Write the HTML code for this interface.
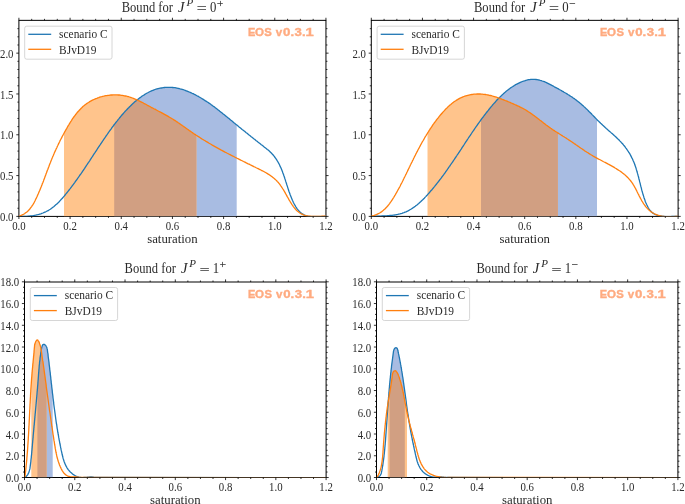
<!DOCTYPE html>
<html><head><meta charset="utf-8"><style>
html,body{margin:0;padding:0;background:#fff;width:685px;height:504px;overflow:hidden}
svg{display:block;will-change:transform}
text{fill:#2a2a2a}
.tl{font-family:"Liberation Serif", serif;font-size:12.2px}
.xl{font-family:"Liberation Serif", serif;font-size:12.8px}
.tt{font-family:"Liberation Serif", serif;font-size:14.6px}
.ts{font-family:"Liberation Serif", serif;font-size:11px}
.tn{font-family:"Liberation Serif", serif;font-size:15px}
.lg{font-family:"Liberation Serif", serif;font-size:12.4px}
.eos{font-family:"Liberation Sans", sans-serif;font-size:11px;font-weight:bold;fill:#ffab80;stroke:#ffab80;stroke-width:0.35px}
</style></head><body>
<svg width="685" height="504" viewBox="0 0 685 504">
<clipPath id="cb1"><path d="M114.2,216.4 L114.2,124.7 L114.4,124.5 L115.0,123.6 L115.7,122.8 L116.3,121.9 L117.0,121.1 L117.6,120.3 L118.3,119.4 L119.0,118.6 L119.6,117.8 L120.3,117.0 L121.0,116.1 L121.7,115.3 L122.4,114.5 L123.1,113.7 L123.8,112.9 L124.5,112.1 L125.2,111.3 L125.9,110.6 L126.7,109.8 L127.4,109.0 L128.1,108.3 L128.9,107.5 L129.6,106.7 L130.4,106.0 L131.2,105.2 L131.9,104.5 L132.7,103.8 L133.5,103.1 L134.3,102.3 L135.1,101.6 L135.9,100.9 L136.7,100.2 L137.6,99.6 L138.4,98.9 L139.2,98.2 L140.1,97.6 L141.0,97.0 L141.8,96.3 L142.7,95.7 L143.6,95.2 L144.5,94.6 L145.4,94.0 L146.3,93.5 L147.2,93.0 L148.2,92.5 L149.1,92.0 L150.1,91.5 L151.0,91.1 L152.0,90.7 L153.0,90.3 L154.0,89.9 L155.0,89.5 L156.0,89.2 L157.0,88.9 L158.1,88.6 L159.1,88.4 L160.2,88.2 L161.2,88.0 L162.2,87.8 L163.3,87.6 L164.4,87.5 L165.4,87.4 L166.5,87.3 L167.5,87.3 L168.6,87.3 L169.7,87.3 L170.7,87.3 L171.8,87.4 L172.8,87.5 L173.9,87.6 L175.0,87.7 L176.0,87.9 L177.0,88.1 L178.1,88.3 L179.1,88.5 L180.1,88.8 L181.2,89.1 L182.2,89.4 L183.2,89.7 L184.2,90.0 L185.2,90.4 L186.2,90.8 L187.2,91.2 L188.2,91.6 L189.2,92.0 L190.2,92.4 L191.2,92.8 L192.1,93.3 L193.1,93.7 L194.1,94.2 L195.0,94.7 L196.0,95.2 L196.9,95.7 L197.8,96.2 L198.8,96.7 L199.7,97.2 L200.6,97.8 L201.5,98.3 L202.4,98.9 L203.3,99.4 L204.2,100.0 L205.1,100.6 L206.0,101.1 L206.9,101.7 L207.8,102.3 L208.7,102.9 L209.6,103.5 L210.4,104.1 L211.3,104.8 L212.2,105.4 L213.0,106.0 L213.9,106.6 L214.8,107.3 L215.6,107.9 L216.5,108.6 L217.3,109.2 L218.2,109.9 L219.0,110.5 L219.8,111.2 L220.7,111.9 L221.5,112.5 L222.4,113.2 L223.2,113.9 L224.0,114.5 L224.9,115.2 L225.7,115.9 L226.5,116.6 L227.3,117.2 L228.2,117.9 L229.0,118.6 L229.8,119.3 L230.6,120.0 L231.4,120.6 L232.3,121.3 L233.1,122.0 L233.9,122.7 L234.7,123.3 L235.5,124.0 L236.4,124.7 L236.7,124.9 L236.7,216.4 Z"/></clipPath>
<clipPath id="ca1"><rect x="18.9" y="20.5" width="307.05" height="195.75"/></clipPath>
<rect x="18.9" y="20.35" width="307.05" height="196.05" fill="none" stroke="#000" stroke-width="1.0"/>
<g clip-path="url(#ca1)">
<path d="M114.2,216.4 L114.2,124.7 L114.4,124.5 L115.0,123.6 L115.7,122.8 L116.3,121.9 L117.0,121.1 L117.6,120.3 L118.3,119.4 L119.0,118.6 L119.6,117.8 L120.3,117.0 L121.0,116.1 L121.7,115.3 L122.4,114.5 L123.1,113.7 L123.8,112.9 L124.5,112.1 L125.2,111.3 L125.9,110.6 L126.7,109.8 L127.4,109.0 L128.1,108.3 L128.9,107.5 L129.6,106.7 L130.4,106.0 L131.2,105.2 L131.9,104.5 L132.7,103.8 L133.5,103.1 L134.3,102.3 L135.1,101.6 L135.9,100.9 L136.7,100.2 L137.6,99.6 L138.4,98.9 L139.2,98.2 L140.1,97.6 L141.0,97.0 L141.8,96.3 L142.7,95.7 L143.6,95.2 L144.5,94.6 L145.4,94.0 L146.3,93.5 L147.2,93.0 L148.2,92.5 L149.1,92.0 L150.1,91.5 L151.0,91.1 L152.0,90.7 L153.0,90.3 L154.0,89.9 L155.0,89.5 L156.0,89.2 L157.0,88.9 L158.1,88.6 L159.1,88.4 L160.2,88.2 L161.2,88.0 L162.2,87.8 L163.3,87.6 L164.4,87.5 L165.4,87.4 L166.5,87.3 L167.5,87.3 L168.6,87.3 L169.7,87.3 L170.7,87.3 L171.8,87.4 L172.8,87.5 L173.9,87.6 L175.0,87.7 L176.0,87.9 L177.0,88.1 L178.1,88.3 L179.1,88.5 L180.1,88.8 L181.2,89.1 L182.2,89.4 L183.2,89.7 L184.2,90.0 L185.2,90.4 L186.2,90.8 L187.2,91.2 L188.2,91.6 L189.2,92.0 L190.2,92.4 L191.2,92.8 L192.1,93.3 L193.1,93.7 L194.1,94.2 L195.0,94.7 L196.0,95.2 L196.9,95.7 L197.8,96.2 L198.8,96.7 L199.7,97.2 L200.6,97.8 L201.5,98.3 L202.4,98.9 L203.3,99.4 L204.2,100.0 L205.1,100.6 L206.0,101.1 L206.9,101.7 L207.8,102.3 L208.7,102.9 L209.6,103.5 L210.4,104.1 L211.3,104.8 L212.2,105.4 L213.0,106.0 L213.9,106.6 L214.8,107.3 L215.6,107.9 L216.5,108.6 L217.3,109.2 L218.2,109.9 L219.0,110.5 L219.8,111.2 L220.7,111.9 L221.5,112.5 L222.4,113.2 L223.2,113.9 L224.0,114.5 L224.9,115.2 L225.7,115.9 L226.5,116.6 L227.3,117.2 L228.2,117.9 L229.0,118.6 L229.8,119.3 L230.6,120.0 L231.4,120.6 L232.3,121.3 L233.1,122.0 L233.9,122.7 L234.7,123.3 L235.5,124.0 L236.4,124.7 L236.7,124.9 L236.7,216.4 Z" fill="#a8bce2"/>
<path d="M64.0,216.4 L64.0,133.2 L64.0,133.2 L64.5,132.3 L65.0,131.4 L65.5,130.5 L66.0,129.6 L66.6,128.6 L67.1,127.7 L67.6,126.8 L68.1,125.9 L68.7,125.0 L69.2,124.1 L69.8,123.2 L70.3,122.3 L70.9,121.4 L71.5,120.5 L72.0,119.6 L72.6,118.7 L73.2,117.8 L73.8,117.0 L74.5,116.1 L75.1,115.3 L75.7,114.5 L76.4,113.6 L77.0,112.8 L77.7,112.0 L78.4,111.2 L79.1,110.5 L79.8,109.7 L80.5,109.0 L81.2,108.2 L82.0,107.5 L82.7,106.8 L83.5,106.1 L84.3,105.5 L85.1,104.8 L85.9,104.2 L86.7,103.6 L87.6,103.0 L88.5,102.5 L89.3,101.9 L90.2,101.4 L91.1,100.9 L92.0,100.4 L93.0,99.9 L93.9,99.5 L94.8,99.1 L95.8,98.7 L96.8,98.3 L97.7,97.9 L98.7,97.6 L99.7,97.2 L100.7,96.9 L101.7,96.7 L102.7,96.4 L103.7,96.2 L104.8,95.9 L105.8,95.7 L106.8,95.6 L107.9,95.4 L108.9,95.3 L109.9,95.1 L111.0,95.0 L112.0,95.0 L113.1,94.9 L114.1,94.9 L115.1,94.9 L116.2,94.9 L117.2,94.9 L118.3,95.0 L119.3,95.0 L120.3,95.1 L121.4,95.3 L122.4,95.4 L123.4,95.6 L124.5,95.8 L125.5,96.0 L126.5,96.2 L127.5,96.5 L128.5,96.7 L129.5,97.0 L130.5,97.3 L131.4,97.7 L132.4,98.0 L133.4,98.4 L134.4,98.8 L135.3,99.2 L136.3,99.6 L137.2,100.0 L138.2,100.5 L139.1,100.9 L140.1,101.4 L141.0,101.8 L142.0,102.3 L142.9,102.8 L143.8,103.3 L144.8,103.8 L145.7,104.3 L146.6,104.8 L147.5,105.3 L148.5,105.8 L149.4,106.3 L150.3,106.8 L151.2,107.3 L152.2,107.8 L153.1,108.3 L154.0,108.8 L154.9,109.2 L155.9,109.7 L156.8,110.2 L157.7,110.7 L158.6,111.2 L159.5,111.7 L160.5,112.2 L161.4,112.6 L162.3,113.1 L163.2,113.6 L164.1,114.1 L165.0,114.6 L165.9,115.1 L166.8,115.6 L167.7,116.1 L168.6,116.6 L169.5,117.2 L170.4,117.7 L171.3,118.2 L172.2,118.8 L173.0,119.3 L173.9,119.9 L174.8,120.4 L175.7,121.0 L176.5,121.6 L177.4,122.1 L178.2,122.7 L179.1,123.3 L180.0,123.9 L180.8,124.5 L181.7,125.1 L182.5,125.7 L183.4,126.3 L184.2,126.9 L185.1,127.5 L185.9,128.1 L186.8,128.7 L187.6,129.3 L188.5,129.9 L189.3,130.5 L190.2,131.1 L191.1,131.7 L191.9,132.3 L192.8,132.9 L193.6,133.5 L194.5,134.1 L195.4,134.6 L196.2,135.2 L196.4,135.3 L196.4,216.4 Z" fill="#ffc48c"/>
<path d="M64.0,216.4 L64.0,133.2 L64.0,133.2 L64.5,132.3 L65.0,131.4 L65.5,130.5 L66.0,129.6 L66.6,128.6 L67.1,127.7 L67.6,126.8 L68.1,125.9 L68.7,125.0 L69.2,124.1 L69.8,123.2 L70.3,122.3 L70.9,121.4 L71.5,120.5 L72.0,119.6 L72.6,118.7 L73.2,117.8 L73.8,117.0 L74.5,116.1 L75.1,115.3 L75.7,114.5 L76.4,113.6 L77.0,112.8 L77.7,112.0 L78.4,111.2 L79.1,110.5 L79.8,109.7 L80.5,109.0 L81.2,108.2 L82.0,107.5 L82.7,106.8 L83.5,106.1 L84.3,105.5 L85.1,104.8 L85.9,104.2 L86.7,103.6 L87.6,103.0 L88.5,102.5 L89.3,101.9 L90.2,101.4 L91.1,100.9 L92.0,100.4 L93.0,99.9 L93.9,99.5 L94.8,99.1 L95.8,98.7 L96.8,98.3 L97.7,97.9 L98.7,97.6 L99.7,97.2 L100.7,96.9 L101.7,96.7 L102.7,96.4 L103.7,96.2 L104.8,95.9 L105.8,95.7 L106.8,95.6 L107.9,95.4 L108.9,95.3 L109.9,95.1 L111.0,95.0 L112.0,95.0 L113.1,94.9 L114.1,94.9 L115.1,94.9 L116.2,94.9 L117.2,94.9 L118.3,95.0 L119.3,95.0 L120.3,95.1 L121.4,95.3 L122.4,95.4 L123.4,95.6 L124.5,95.8 L125.5,96.0 L126.5,96.2 L127.5,96.5 L128.5,96.7 L129.5,97.0 L130.5,97.3 L131.4,97.7 L132.4,98.0 L133.4,98.4 L134.4,98.8 L135.3,99.2 L136.3,99.6 L137.2,100.0 L138.2,100.5 L139.1,100.9 L140.1,101.4 L141.0,101.8 L142.0,102.3 L142.9,102.8 L143.8,103.3 L144.8,103.8 L145.7,104.3 L146.6,104.8 L147.5,105.3 L148.5,105.8 L149.4,106.3 L150.3,106.8 L151.2,107.3 L152.2,107.8 L153.1,108.3 L154.0,108.8 L154.9,109.2 L155.9,109.7 L156.8,110.2 L157.7,110.7 L158.6,111.2 L159.5,111.7 L160.5,112.2 L161.4,112.6 L162.3,113.1 L163.2,113.6 L164.1,114.1 L165.0,114.6 L165.9,115.1 L166.8,115.6 L167.7,116.1 L168.6,116.6 L169.5,117.2 L170.4,117.7 L171.3,118.2 L172.2,118.8 L173.0,119.3 L173.9,119.9 L174.8,120.4 L175.7,121.0 L176.5,121.6 L177.4,122.1 L178.2,122.7 L179.1,123.3 L180.0,123.9 L180.8,124.5 L181.7,125.1 L182.5,125.7 L183.4,126.3 L184.2,126.9 L185.1,127.5 L185.9,128.1 L186.8,128.7 L187.6,129.3 L188.5,129.9 L189.3,130.5 L190.2,131.1 L191.1,131.7 L191.9,132.3 L192.8,132.9 L193.6,133.5 L194.5,134.1 L195.4,134.6 L196.2,135.2 L196.4,135.3 L196.4,216.4 Z" fill="#d19f82" clip-path="url(#cb1)"/>
<path d="M18.6,216.2 L19.6,216.3 L20.7,216.3 L21.7,216.4 L22.8,216.4 L23.8,216.4 L24.9,216.4 L26.0,216.4 L27.1,216.3 L28.1,216.2 L29.2,216.1 L30.3,216.0 L31.4,215.9 L32.4,215.8 L33.5,215.6 L34.6,215.4 L35.6,215.2 L36.7,214.9 L37.7,214.7 L38.8,214.4 L39.8,214.1 L40.8,213.8 L41.8,213.4 L42.9,213.0 L43.8,212.6 L44.8,212.2 L45.8,211.8 L46.7,211.3 L47.6,210.8 L48.6,210.3 L49.4,209.7 L50.3,209.2 L51.2,208.6 L52.0,208.0 L52.9,207.3 L53.7,206.7 L54.5,206.0 L55.3,205.3 L56.1,204.6 L56.9,203.9 L57.7,203.2 L58.4,202.4 L59.2,201.7 L59.9,200.9 L60.6,200.1 L61.3,199.3 L62.1,198.5 L62.8,197.7 L63.5,196.9 L64.2,196.1 L64.9,195.3 L65.5,194.4 L66.2,193.6 L66.9,192.8 L67.6,191.9 L68.2,191.1 L68.9,190.3 L69.5,189.4 L70.2,188.6 L70.9,187.7 L71.5,186.9 L72.1,186.0 L72.8,185.1 L73.4,184.3 L74.1,183.4 L74.7,182.6 L75.3,181.7 L75.9,180.8 L76.6,180.0 L77.2,179.1 L77.8,178.2 L78.4,177.4 L79.0,176.5 L79.6,175.6 L80.2,174.7 L80.9,173.9 L81.5,173.0 L82.1,172.1 L82.7,171.2 L83.3,170.3 L83.9,169.4 L84.5,168.6 L85.0,167.7 L85.6,166.8 L86.2,165.9 L86.8,165.0 L87.4,164.1 L88.0,163.2 L88.6,162.4 L89.2,161.5 L89.8,160.6 L90.3,159.7 L90.9,158.8 L91.5,157.9 L92.1,157.0 L92.7,156.1 L93.3,155.2 L93.8,154.3 L94.4,153.4 L95.0,152.6 L95.6,151.7 L96.2,150.8 L96.8,149.9 L97.3,149.0 L97.9,148.1 L98.5,147.2 L99.1,146.3 L99.7,145.4 L100.3,144.6 L100.9,143.7 L101.5,142.8 L102.1,141.9 L102.7,141.0 L103.3,140.1 L103.9,139.2 L104.5,138.4 L105.1,137.5 L105.7,136.6 L106.3,135.7 L106.9,134.9 L107.5,134.0 L108.1,133.1 L108.7,132.2 L109.3,131.4 L109.9,130.5 L110.6,129.6 L111.2,128.8 L111.8,127.9 L112.4,127.0 L113.1,126.2 L113.7,125.3 L114.4,124.5 L115.0,123.6 L115.7,122.8 L116.3,121.9 L117.0,121.1 L117.6,120.3 L118.3,119.4 L119.0,118.6 L119.6,117.8 L120.3,117.0 L121.0,116.1 L121.7,115.3 L122.4,114.5 L123.1,113.7 L123.8,112.9 L124.5,112.1 L125.2,111.3 L125.9,110.6 L126.7,109.8 L127.4,109.0 L128.1,108.3 L128.9,107.5 L129.6,106.7 L130.4,106.0 L131.2,105.2 L131.9,104.5 L132.7,103.8 L133.5,103.1 L134.3,102.3 L135.1,101.6 L135.9,100.9 L136.7,100.2 L137.6,99.6 L138.4,98.9 L139.2,98.2 L140.1,97.6 L141.0,97.0 L141.8,96.3 L142.7,95.7 L143.6,95.2 L144.5,94.6 L145.4,94.0 L146.3,93.5 L147.2,93.0 L148.2,92.5 L149.1,92.0 L150.1,91.5 L151.0,91.1 L152.0,90.7 L153.0,90.3 L154.0,89.9 L155.0,89.5 L156.0,89.2 L157.0,88.9 L158.1,88.6 L159.1,88.4 L160.2,88.2 L161.2,88.0 L162.2,87.8 L163.3,87.6 L164.4,87.5 L165.4,87.4 L166.5,87.3 L167.5,87.3 L168.6,87.3 L169.7,87.3 L170.7,87.3 L171.8,87.4 L172.8,87.5 L173.9,87.6 L175.0,87.7 L176.0,87.9 L177.0,88.1 L178.1,88.3 L179.1,88.5 L180.1,88.8 L181.2,89.1 L182.2,89.4 L183.2,89.7 L184.2,90.0 L185.2,90.4 L186.2,90.8 L187.2,91.2 L188.2,91.6 L189.2,92.0 L190.2,92.4 L191.2,92.8 L192.1,93.3 L193.1,93.7 L194.1,94.2 L195.0,94.7 L196.0,95.2 L196.9,95.7 L197.8,96.2 L198.8,96.7 L199.7,97.2 L200.6,97.8 L201.5,98.3 L202.4,98.9 L203.3,99.4 L204.2,100.0 L205.1,100.6 L206.0,101.1 L206.9,101.7 L207.8,102.3 L208.7,102.9 L209.6,103.5 L210.4,104.1 L211.3,104.8 L212.2,105.4 L213.0,106.0 L213.9,106.6 L214.8,107.3 L215.6,107.9 L216.5,108.6 L217.3,109.2 L218.2,109.9 L219.0,110.5 L219.8,111.2 L220.7,111.9 L221.5,112.5 L222.4,113.2 L223.2,113.9 L224.0,114.5 L224.9,115.2 L225.7,115.9 L226.5,116.6 L227.3,117.2 L228.2,117.9 L229.0,118.6 L229.8,119.3 L230.6,120.0 L231.4,120.6 L232.3,121.3 L233.1,122.0 L233.9,122.7 L234.7,123.3 L235.5,124.0 L236.4,124.7 L237.2,125.3 L238.0,126.0 L238.8,126.7 L239.7,127.4 L240.5,128.0 L241.3,128.7 L242.1,129.4 L242.9,130.0 L243.8,130.7 L244.6,131.3 L245.4,132.0 L246.2,132.7 L247.1,133.3 L247.9,134.0 L248.7,134.7 L249.5,135.3 L250.4,136.0 L251.2,136.7 L252.0,137.3 L252.9,138.0 L253.7,138.7 L254.6,139.3 L255.4,140.0 L256.2,140.7 L257.1,141.3 L257.9,142.0 L258.8,142.7 L259.6,143.3 L260.5,144.0 L261.3,144.7 L262.2,145.3 L263.1,146.0 L263.9,146.7 L264.8,147.4 L265.6,148.0 L266.5,148.7 L267.3,149.4 L268.2,150.1 L269.0,150.8 L269.8,151.5 L270.5,152.3 L271.3,153.0 L272.0,153.8 L272.7,154.5 L273.4,155.3 L274.1,156.2 L274.7,157.0 L275.3,157.8 L275.9,158.7 L276.5,159.5 L277.0,160.4 L277.6,161.3 L278.1,162.2 L278.6,163.1 L279.1,164.0 L279.6,165.0 L280.0,165.9 L280.4,166.9 L280.9,167.8 L281.3,168.8 L281.7,169.8 L282.1,170.8 L282.5,171.8 L282.8,172.8 L283.2,173.8 L283.6,174.8 L283.9,175.8 L284.3,176.8 L284.6,177.8 L284.9,178.8 L285.3,179.9 L285.6,180.9 L285.9,181.9 L286.3,183.0 L286.6,184.0 L286.9,185.0 L287.3,186.1 L287.6,187.1 L287.9,188.1 L288.3,189.2 L288.6,190.2 L288.9,191.2 L289.3,192.2 L289.7,193.3 L290.0,194.3 L290.4,195.3 L290.8,196.3 L291.2,197.3 L291.6,198.3 L292.0,199.3 L292.4,200.3 L292.9,201.2 L293.3,202.2 L293.8,203.2 L294.3,204.1 L294.8,205.0 L295.3,205.9 L295.8,206.8 L296.4,207.7 L297.0,208.6 L297.6,209.4 L298.3,210.2 L298.9,210.9 L299.6,211.7 L300.4,212.3 L301.1,213.0 L301.9,213.6 L302.8,214.1 L303.6,214.6 L304.6,215.1 L305.5,215.5 L306.5,215.9 L307.5,216.2 L308.5,216.5 L309.5,216.6 L310.6,216.6 L311.6,216.6 L312.7,216.6 L313.8,216.6 L314.9,216.6 L316.1,216.6 L317.2,216.6 L318.3,216.6 L319.4,216.6 L320.6,216.6 L321.7,216.6 L322.8,216.6 L323.9,216.6 L325.0,216.3 L326.0,216.1" fill="none" stroke="#1f77b4" stroke-width="1.3" stroke-linejoin="round"/>
<path d="M18.6,216.3 L19.7,216.0 L20.7,215.6 L21.7,215.2 L22.7,214.7 L23.6,214.2 L24.5,213.7 L25.3,213.1 L26.1,212.5 L26.9,211.9 L27.7,211.2 L28.4,210.5 L29.1,209.8 L29.8,209.0 L30.4,208.2 L31.0,207.4 L31.6,206.6 L32.2,205.7 L32.8,204.9 L33.3,204.0 L33.8,203.1 L34.3,202.2 L34.8,201.2 L35.3,200.3 L35.7,199.3 L36.2,198.4 L36.6,197.4 L37.1,196.5 L37.5,195.5 L37.9,194.5 L38.4,193.6 L38.8,192.6 L39.2,191.6 L39.6,190.7 L40.0,189.7 L40.4,188.7 L40.8,187.7 L41.2,186.8 L41.6,185.8 L42.0,184.8 L42.3,183.8 L42.7,182.9 L43.1,181.9 L43.5,180.9 L43.8,179.9 L44.2,178.9 L44.6,178.0 L44.9,177.0 L45.3,176.0 L45.7,175.0 L46.0,174.0 L46.4,173.1 L46.8,172.1 L47.1,171.1 L47.5,170.1 L47.9,169.2 L48.2,168.2 L48.6,167.2 L49.0,166.2 L49.3,165.3 L49.7,164.3 L50.1,163.3 L50.5,162.4 L50.8,161.4 L51.2,160.4 L51.6,159.5 L52.0,158.5 L52.4,157.6 L52.8,156.6 L53.2,155.7 L53.6,154.7 L54.0,153.8 L54.4,152.8 L54.8,151.9 L55.3,150.9 L55.7,150.0 L56.1,149.0 L56.6,148.1 L57.0,147.2 L57.4,146.2 L57.9,145.3 L58.3,144.4 L58.8,143.4 L59.2,142.5 L59.7,141.6 L60.1,140.6 L60.6,139.7 L61.1,138.8 L61.6,137.9 L62.0,136.9 L62.5,136.0 L63.0,135.1 L63.5,134.2 L64.0,133.2 L64.5,132.3 L65.0,131.4 L65.5,130.5 L66.0,129.6 L66.6,128.6 L67.1,127.7 L67.6,126.8 L68.1,125.9 L68.7,125.0 L69.2,124.1 L69.8,123.2 L70.3,122.3 L70.9,121.4 L71.5,120.5 L72.0,119.6 L72.6,118.7 L73.2,117.8 L73.8,117.0 L74.5,116.1 L75.1,115.3 L75.7,114.5 L76.4,113.6 L77.0,112.8 L77.7,112.0 L78.4,111.2 L79.1,110.5 L79.8,109.7 L80.5,109.0 L81.2,108.2 L82.0,107.5 L82.7,106.8 L83.5,106.1 L84.3,105.5 L85.1,104.8 L85.9,104.2 L86.7,103.6 L87.6,103.0 L88.5,102.5 L89.3,101.9 L90.2,101.4 L91.1,100.9 L92.0,100.4 L93.0,99.9 L93.9,99.5 L94.8,99.1 L95.8,98.7 L96.8,98.3 L97.7,97.9 L98.7,97.6 L99.7,97.2 L100.7,96.9 L101.7,96.7 L102.7,96.4 L103.7,96.2 L104.8,95.9 L105.8,95.7 L106.8,95.6 L107.9,95.4 L108.9,95.3 L109.9,95.1 L111.0,95.0 L112.0,95.0 L113.1,94.9 L114.1,94.9 L115.1,94.9 L116.2,94.9 L117.2,94.9 L118.3,95.0 L119.3,95.0 L120.3,95.1 L121.4,95.3 L122.4,95.4 L123.4,95.6 L124.5,95.8 L125.5,96.0 L126.5,96.2 L127.5,96.5 L128.5,96.7 L129.5,97.0 L130.5,97.3 L131.4,97.7 L132.4,98.0 L133.4,98.4 L134.4,98.8 L135.3,99.2 L136.3,99.6 L137.2,100.0 L138.2,100.5 L139.1,100.9 L140.1,101.4 L141.0,101.8 L142.0,102.3 L142.9,102.8 L143.8,103.3 L144.8,103.8 L145.7,104.3 L146.6,104.8 L147.5,105.3 L148.5,105.8 L149.4,106.3 L150.3,106.8 L151.2,107.3 L152.2,107.8 L153.1,108.3 L154.0,108.8 L154.9,109.2 L155.9,109.7 L156.8,110.2 L157.7,110.7 L158.6,111.2 L159.5,111.7 L160.5,112.2 L161.4,112.6 L162.3,113.1 L163.2,113.6 L164.1,114.1 L165.0,114.6 L165.9,115.1 L166.8,115.6 L167.7,116.1 L168.6,116.6 L169.5,117.2 L170.4,117.7 L171.3,118.2 L172.2,118.8 L173.0,119.3 L173.9,119.9 L174.8,120.4 L175.7,121.0 L176.5,121.6 L177.4,122.1 L178.2,122.7 L179.1,123.3 L180.0,123.9 L180.8,124.5 L181.7,125.1 L182.5,125.7 L183.4,126.3 L184.2,126.9 L185.1,127.5 L185.9,128.1 L186.8,128.7 L187.6,129.3 L188.5,129.9 L189.3,130.5 L190.2,131.1 L191.1,131.7 L191.9,132.3 L192.8,132.9 L193.6,133.5 L194.5,134.1 L195.4,134.6 L196.2,135.2 L197.1,135.8 L198.0,136.4 L198.9,136.9 L199.8,137.5 L200.6,138.1 L201.5,138.6 L202.4,139.2 L203.3,139.7 L204.2,140.3 L205.1,140.8 L206.0,141.4 L206.9,141.9 L207.8,142.4 L208.7,143.0 L209.6,143.5 L210.5,144.0 L211.4,144.5 L212.3,145.1 L213.2,145.6 L214.1,146.1 L215.0,146.6 L215.9,147.1 L216.8,147.6 L217.7,148.1 L218.6,148.6 L219.5,149.1 L220.4,149.6 L221.3,150.1 L222.3,150.6 L223.2,151.1 L224.1,151.6 L225.0,152.1 L225.9,152.5 L226.8,153.0 L227.8,153.5 L228.7,154.0 L229.6,154.4 L230.5,154.9 L231.4,155.4 L232.4,155.9 L233.3,156.3 L234.2,156.8 L235.1,157.3 L236.1,157.7 L237.0,158.2 L237.9,158.7 L238.8,159.1 L239.8,159.6 L240.7,160.1 L241.6,160.5 L242.6,161.0 L243.5,161.5 L244.4,161.9 L245.4,162.4 L246.3,162.9 L247.2,163.3 L248.2,163.8 L249.1,164.2 L250.1,164.7 L251.0,165.2 L251.9,165.6 L252.9,166.1 L253.8,166.6 L254.8,167.0 L255.7,167.5 L256.7,168.0 L257.6,168.4 L258.6,168.9 L259.5,169.4 L260.5,169.8 L261.4,170.3 L262.4,170.8 L263.3,171.3 L264.2,171.8 L265.1,172.3 L266.0,172.8 L267.0,173.4 L267.8,173.9 L268.7,174.4 L269.6,175.0 L270.5,175.6 L271.3,176.2 L272.1,176.8 L272.9,177.4 L273.7,178.1 L274.5,178.7 L275.3,179.4 L276.0,180.1 L276.7,180.8 L277.4,181.6 L278.1,182.3 L278.8,183.1 L279.4,183.9 L280.0,184.7 L280.6,185.6 L281.2,186.4 L281.8,187.3 L282.4,188.1 L282.9,189.0 L283.5,189.9 L284.0,190.8 L284.5,191.7 L285.1,192.6 L285.6,193.6 L286.1,194.5 L286.6,195.4 L287.1,196.4 L287.7,197.3 L288.2,198.2 L288.7,199.1 L289.2,200.1 L289.8,201.0 L290.3,201.9 L290.9,202.8 L291.4,203.7 L292.0,204.6 L292.6,205.4 L293.2,206.3 L293.8,207.1 L294.4,207.9 L295.1,208.7 L295.7,209.4 L296.4,210.2 L297.1,210.9 L297.9,211.5 L298.6,212.1 L299.4,212.7 L300.3,213.3 L301.1,213.8 L302.0,214.2 L302.9,214.6 L303.8,215.0 L304.8,215.3 L305.8,215.6 L306.8,215.8 L307.9,216.0 L309.0,216.1 L310.0,216.2 L311.1,216.3 L312.2,216.4 L313.4,216.4 L314.5,216.4 L315.6,216.4 L316.7,216.4 L317.8,216.4 L318.9,216.4 L320.0,216.3 L321.0,216.3 L322.1,216.2 L323.1,216.2 L324.1,216.2 L325.0,216.2 L325.9,216.2" fill="none" stroke="#ff7f0e" stroke-width="1.3" stroke-linejoin="round"/>
</g>
<path d="M18.90,216.40v2.6M18.90,20.35v-2.6M31.69,216.40v1.5M31.69,20.35v-1.5M44.49,216.40v1.5M44.49,20.35v-1.5M57.28,216.40v1.5M57.28,20.35v-1.5M70.08,216.40v2.6M70.08,20.35v-2.6M82.87,216.40v1.5M82.87,20.35v-1.5M95.66,216.40v1.5M95.66,20.35v-1.5M108.46,216.40v1.5M108.46,20.35v-1.5M121.25,216.40v2.6M121.25,20.35v-2.6M134.04,216.40v1.5M134.04,20.35v-1.5M146.84,216.40v1.5M146.84,20.35v-1.5M159.63,216.40v1.5M159.63,20.35v-1.5M172.43,216.40v2.6M172.43,20.35v-2.6M185.22,216.40v1.5M185.22,20.35v-1.5M198.01,216.40v1.5M198.01,20.35v-1.5M210.81,216.40v1.5M210.81,20.35v-1.5M223.60,216.40v2.6M223.60,20.35v-2.6M236.39,216.40v1.5M236.39,20.35v-1.5M249.19,216.40v1.5M249.19,20.35v-1.5M261.98,216.40v1.5M261.98,20.35v-1.5M274.78,216.40v2.6M274.78,20.35v-2.6M287.57,216.40v1.5M287.57,20.35v-1.5M300.36,216.40v1.5M300.36,20.35v-1.5M313.16,216.40v1.5M313.16,20.35v-1.5M325.95,216.40v2.6M325.95,20.35v-2.6M18.90,216.40h-2.6M325.95,216.40h2.6M18.90,208.24h-1.5M325.95,208.24h1.5M18.90,200.07h-1.5M325.95,200.07h1.5M18.90,191.91h-1.5M325.95,191.91h1.5M18.90,183.75h-1.5M325.95,183.75h1.5M18.90,175.59h-2.6M325.95,175.59h2.6M18.90,167.42h-1.5M325.95,167.42h1.5M18.90,159.26h-1.5M325.95,159.26h1.5M18.90,151.10h-1.5M325.95,151.10h1.5M18.90,142.94h-1.5M325.95,142.94h1.5M18.90,134.78h-2.6M325.95,134.78h2.6M18.90,126.61h-1.5M325.95,126.61h1.5M18.90,118.45h-1.5M325.95,118.45h1.5M18.90,110.29h-1.5M325.95,110.29h1.5M18.90,102.12h-1.5M325.95,102.12h1.5M18.90,93.96h-2.6M325.95,93.96h2.6M18.90,85.80h-1.5M325.95,85.80h1.5M18.90,77.64h-1.5M325.95,77.64h1.5M18.90,69.47h-1.5M325.95,69.47h1.5M18.90,61.31h-1.5M325.95,61.31h1.5M18.90,53.15h-2.6M325.95,53.15h2.6M18.90,44.99h-1.5M325.95,44.99h1.5M18.90,36.82h-1.5M325.95,36.82h1.5M18.90,28.66h-1.5M325.95,28.66h1.5" stroke="#000" stroke-width="0.8" fill="none"/>
<text transform="translate(18.90,229.70) scale(0.885,1)" text-anchor="middle" class="tl">0.0</text>
<text transform="translate(70.08,229.70) scale(0.885,1)" text-anchor="middle" class="tl">0.2</text>
<text transform="translate(121.25,229.70) scale(0.885,1)" text-anchor="middle" class="tl">0.4</text>
<text transform="translate(172.43,229.70) scale(0.885,1)" text-anchor="middle" class="tl">0.6</text>
<text transform="translate(223.60,229.70) scale(0.885,1)" text-anchor="middle" class="tl">0.8</text>
<text transform="translate(274.78,229.70) scale(0.885,1)" text-anchor="middle" class="tl">1.0</text>
<text transform="translate(325.95,229.70) scale(0.885,1)" text-anchor="middle" class="tl">1.2</text>
<text transform="translate(13.50,221.00) scale(0.885,1)" text-anchor="end" class="tl">0.0</text>
<text transform="translate(13.50,180.19) scale(0.885,1)" text-anchor="end" class="tl">0.5</text>
<text transform="translate(13.50,139.38) scale(0.885,1)" text-anchor="end" class="tl">1.0</text>
<text transform="translate(13.50,98.56) scale(0.885,1)" text-anchor="end" class="tl">1.5</text>
<text transform="translate(13.50,57.75) scale(0.885,1)" text-anchor="end" class="tl">2.0</text>
<text transform="translate(172.42,242.70)" text-anchor="middle" class="xl">saturation</text>
<text transform="translate(121.72,11.60) scale(0.86,1)" class="tt">Bound for</text>
<text transform="translate(178.02,11.60)" class="tt" font-style="italic">J</text>
<text transform="translate(186.42,6.00)" class="ts" font-style="italic">P</text>
<path d="M197.42,6.50h8.6M197.42,9.50h8.6" stroke="#333" stroke-width="0.75"/>
<text transform="translate(209.92,11.60) scale(0.85,1)" class="tn">0</text>
<path d="M217.22,3.50H222.82M220.50,0.90v5.2" stroke="#333" stroke-width="0.75"/>
<rect x="24.70" y="26.20" width="87.3" height="33" rx="2" fill="#fff" fill-opacity="0.8" stroke="#cccccc" stroke-width="0.8"/>
<path d="M28.30,34.30h22.9" stroke="#1f77b4" stroke-width="1.3"/>
<path d="M28.30,49.30h22.9" stroke="#ff7f0e" stroke-width="1.3"/>
<text transform="translate(59.10,37.80) scale(0.92,1)" class="lg">scenario C</text>
<text transform="translate(59.10,53.60) scale(0.92,1)" class="lg">BJvD19</text>
<text transform="translate(251.55,36.40)" text-anchor="middle" class="eos">E</text>
<text transform="translate(259.45,36.40) scale(1.05,1)" text-anchor="middle" class="eos">O</text>
<text transform="translate(268.05,36.40) scale(1.03,1)" text-anchor="middle" class="eos">S</text>
<text transform="translate(279.05,36.40) scale(1.05,1)" text-anchor="middle" class="eos">v</text>
<text transform="translate(286.75,36.40) scale(1.2,1)" text-anchor="middle" class="eos">0</text>
<text transform="translate(292.25,36.40) scale(1.2,1)" text-anchor="middle" class="eos">.</text>
<text transform="translate(298.25,36.40) scale(1.2,1)" text-anchor="middle" class="eos">3</text>
<text transform="translate(303.85,36.40) scale(1.2,1)" text-anchor="middle" class="eos">.</text>
<text transform="translate(309.65,36.40) scale(1.35,1)" text-anchor="middle" class="eos">1</text>
<clipPath id="cb2"><path d="M481.0,216.4 L481.0,119.8 L481.6,119.0 L482.2,118.1 L482.9,117.3 L483.6,116.4 L484.2,115.5 L484.9,114.6 L485.5,113.8 L486.2,112.9 L486.9,112.0 L487.6,111.2 L488.3,110.3 L488.9,109.5 L489.6,108.6 L490.3,107.8 L491.0,106.9 L491.7,106.1 L492.4,105.2 L493.1,104.4 L493.8,103.6 L494.6,102.8 L495.3,102.0 L496.0,101.1 L496.7,100.3 L497.5,99.5 L498.2,98.8 L499.0,98.0 L499.8,97.2 L500.5,96.4 L501.3,95.7 L502.1,94.9 L502.9,94.2 L503.7,93.4 L504.5,92.7 L505.4,92.0 L506.2,91.3 L507.1,90.6 L507.9,89.9 L508.8,89.2 L509.7,88.6 L510.6,87.9 L511.5,87.3 L512.5,86.7 L513.4,86.1 L514.4,85.5 L515.3,84.9 L516.3,84.3 L517.3,83.8 L518.3,83.3 L519.3,82.8 L520.3,82.3 L521.4,81.9 L522.4,81.5 L523.4,81.1 L524.5,80.8 L525.5,80.5 L526.6,80.2 L527.6,79.9 L528.7,79.7 L529.7,79.6 L530.8,79.4 L531.8,79.3 L532.9,79.3 L534.0,79.3 L535.0,79.4 L536.1,79.5 L537.1,79.6 L538.2,79.8 L539.2,80.0 L540.2,80.3 L541.3,80.6 L542.3,81.0 L543.3,81.3 L544.4,81.7 L545.4,82.2 L546.4,82.6 L547.4,83.1 L548.4,83.6 L549.4,84.1 L550.4,84.6 L551.4,85.1 L552.4,85.7 L553.4,86.2 L554.4,86.8 L555.4,87.3 L556.4,87.8 L557.4,88.4 L558.4,88.9 L559.3,89.5 L560.3,90.0 L561.3,90.5 L562.2,91.1 L563.2,91.6 L564.1,92.2 L565.1,92.8 L566.0,93.3 L567.0,93.9 L567.9,94.5 L568.8,95.0 L569.7,95.6 L570.6,96.2 L571.6,96.8 L572.5,97.4 L573.3,98.0 L574.2,98.6 L575.1,99.3 L576.0,99.9 L576.8,100.6 L577.7,101.2 L578.6,101.9 L579.4,102.6 L580.2,103.3 L581.1,104.0 L581.9,104.7 L582.7,105.4 L583.5,106.1 L584.3,106.9 L585.1,107.6 L585.9,108.4 L586.7,109.1 L587.5,109.9 L588.3,110.7 L589.0,111.5 L589.8,112.2 L590.6,113.0 L591.4,113.8 L592.1,114.6 L592.9,115.4 L593.7,116.2 L594.5,117.0 L595.2,117.8 L596.0,118.6 L596.8,119.4 L597.0,119.6 L597.0,216.4 Z"/></clipPath>
<clipPath id="ca2"><rect x="371.3" y="20.5" width="306.80" height="195.75"/></clipPath>
<rect x="371.3" y="20.35" width="306.80" height="196.05" fill="none" stroke="#000" stroke-width="1.0"/>
<g clip-path="url(#ca2)">
<path d="M481.0,216.4 L481.0,119.8 L481.6,119.0 L482.2,118.1 L482.9,117.3 L483.6,116.4 L484.2,115.5 L484.9,114.6 L485.5,113.8 L486.2,112.9 L486.9,112.0 L487.6,111.2 L488.3,110.3 L488.9,109.5 L489.6,108.6 L490.3,107.8 L491.0,106.9 L491.7,106.1 L492.4,105.2 L493.1,104.4 L493.8,103.6 L494.6,102.8 L495.3,102.0 L496.0,101.1 L496.7,100.3 L497.5,99.5 L498.2,98.8 L499.0,98.0 L499.8,97.2 L500.5,96.4 L501.3,95.7 L502.1,94.9 L502.9,94.2 L503.7,93.4 L504.5,92.7 L505.4,92.0 L506.2,91.3 L507.1,90.6 L507.9,89.9 L508.8,89.2 L509.7,88.6 L510.6,87.9 L511.5,87.3 L512.5,86.7 L513.4,86.1 L514.4,85.5 L515.3,84.9 L516.3,84.3 L517.3,83.8 L518.3,83.3 L519.3,82.8 L520.3,82.3 L521.4,81.9 L522.4,81.5 L523.4,81.1 L524.5,80.8 L525.5,80.5 L526.6,80.2 L527.6,79.9 L528.7,79.7 L529.7,79.6 L530.8,79.4 L531.8,79.3 L532.9,79.3 L534.0,79.3 L535.0,79.4 L536.1,79.5 L537.1,79.6 L538.2,79.8 L539.2,80.0 L540.2,80.3 L541.3,80.6 L542.3,81.0 L543.3,81.3 L544.4,81.7 L545.4,82.2 L546.4,82.6 L547.4,83.1 L548.4,83.6 L549.4,84.1 L550.4,84.6 L551.4,85.1 L552.4,85.7 L553.4,86.2 L554.4,86.8 L555.4,87.3 L556.4,87.8 L557.4,88.4 L558.4,88.9 L559.3,89.5 L560.3,90.0 L561.3,90.5 L562.2,91.1 L563.2,91.6 L564.1,92.2 L565.1,92.8 L566.0,93.3 L567.0,93.9 L567.9,94.5 L568.8,95.0 L569.7,95.6 L570.6,96.2 L571.6,96.8 L572.5,97.4 L573.3,98.0 L574.2,98.6 L575.1,99.3 L576.0,99.9 L576.8,100.6 L577.7,101.2 L578.6,101.9 L579.4,102.6 L580.2,103.3 L581.1,104.0 L581.9,104.7 L582.7,105.4 L583.5,106.1 L584.3,106.9 L585.1,107.6 L585.9,108.4 L586.7,109.1 L587.5,109.9 L588.3,110.7 L589.0,111.5 L589.8,112.2 L590.6,113.0 L591.4,113.8 L592.1,114.6 L592.9,115.4 L593.7,116.2 L594.5,117.0 L595.2,117.8 L596.0,118.6 L596.8,119.4 L597.0,119.6 L597.0,216.4 Z" fill="#a8bce2"/>
<path d="M427.5,216.4 L427.5,133.1 L427.9,132.5 L428.5,131.6 L429.0,130.7 L429.6,129.9 L430.1,129.0 L430.7,128.2 L431.3,127.3 L431.9,126.4 L432.4,125.6 L433.0,124.7 L433.6,123.9 L434.2,123.0 L434.8,122.2 L435.5,121.4 L436.1,120.5 L436.7,119.7 L437.3,118.9 L438.0,118.1 L438.6,117.2 L439.3,116.4 L439.9,115.6 L440.6,114.8 L441.3,114.0 L442.0,113.2 L442.7,112.4 L443.4,111.6 L444.1,110.9 L444.8,110.1 L445.5,109.3 L446.2,108.6 L447.0,107.9 L447.7,107.1 L448.5,106.4 L449.2,105.7 L450.0,105.0 L450.8,104.4 L451.6,103.7 L452.4,103.1 L453.2,102.4 L454.0,101.8 L454.9,101.2 L455.7,100.7 L456.6,100.1 L457.5,99.6 L458.3,99.1 L459.2,98.6 L460.1,98.1 L461.1,97.7 L462.0,97.3 L462.9,96.9 L463.9,96.5 L464.8,96.2 L465.8,95.9 L466.8,95.6 L467.8,95.3 L468.8,95.1 L469.8,94.9 L470.8,94.7 L471.9,94.5 L472.9,94.4 L473.9,94.2 L475.0,94.2 L476.0,94.1 L477.1,94.0 L478.1,94.0 L479.1,94.0 L480.2,94.0 L481.2,94.1 L482.3,94.2 L483.3,94.3 L484.3,94.4 L485.3,94.5 L486.4,94.7 L487.4,94.8 L488.4,95.0 L489.4,95.3 L490.4,95.5 L491.4,95.7 L492.4,96.0 L493.4,96.3 L494.4,96.6 L495.4,96.9 L496.4,97.2 L497.4,97.5 L498.3,97.9 L499.3,98.2 L500.3,98.6 L501.3,98.9 L502.2,99.3 L503.2,99.7 L504.2,100.1 L505.2,100.5 L506.1,100.8 L507.1,101.2 L508.0,101.6 L509.0,102.0 L510.0,102.4 L510.9,102.8 L511.9,103.2 L512.8,103.7 L513.8,104.1 L514.7,104.5 L515.7,104.9 L516.6,105.3 L517.6,105.8 L518.5,106.2 L519.4,106.6 L520.3,107.1 L521.3,107.6 L522.2,108.0 L523.1,108.5 L524.0,109.0 L524.9,109.5 L525.8,110.0 L526.6,110.6 L527.5,111.1 L528.4,111.7 L529.2,112.2 L530.1,112.8 L530.9,113.4 L531.8,114.0 L532.6,114.6 L533.5,115.2 L534.3,115.8 L535.1,116.4 L535.9,117.0 L536.8,117.7 L537.6,118.3 L538.4,118.9 L539.2,119.6 L540.0,120.2 L540.9,120.8 L541.7,121.5 L542.5,122.1 L543.3,122.8 L544.1,123.4 L545.0,124.0 L545.8,124.7 L546.6,125.3 L547.5,125.9 L548.3,126.5 L549.1,127.1 L550.0,127.7 L550.8,128.3 L551.7,128.9 L552.5,129.5 L553.4,130.1 L554.3,130.6 L555.1,131.2 L556.0,131.8 L556.9,132.3 L557.7,132.9 L557.9,133.0 L557.9,216.4 Z" fill="#ffc48c"/>
<path d="M427.5,216.4 L427.5,133.1 L427.9,132.5 L428.5,131.6 L429.0,130.7 L429.6,129.9 L430.1,129.0 L430.7,128.2 L431.3,127.3 L431.9,126.4 L432.4,125.6 L433.0,124.7 L433.6,123.9 L434.2,123.0 L434.8,122.2 L435.5,121.4 L436.1,120.5 L436.7,119.7 L437.3,118.9 L438.0,118.1 L438.6,117.2 L439.3,116.4 L439.9,115.6 L440.6,114.8 L441.3,114.0 L442.0,113.2 L442.7,112.4 L443.4,111.6 L444.1,110.9 L444.8,110.1 L445.5,109.3 L446.2,108.6 L447.0,107.9 L447.7,107.1 L448.5,106.4 L449.2,105.7 L450.0,105.0 L450.8,104.4 L451.6,103.7 L452.4,103.1 L453.2,102.4 L454.0,101.8 L454.9,101.2 L455.7,100.7 L456.6,100.1 L457.5,99.6 L458.3,99.1 L459.2,98.6 L460.1,98.1 L461.1,97.7 L462.0,97.3 L462.9,96.9 L463.9,96.5 L464.8,96.2 L465.8,95.9 L466.8,95.6 L467.8,95.3 L468.8,95.1 L469.8,94.9 L470.8,94.7 L471.9,94.5 L472.9,94.4 L473.9,94.2 L475.0,94.2 L476.0,94.1 L477.1,94.0 L478.1,94.0 L479.1,94.0 L480.2,94.0 L481.2,94.1 L482.3,94.2 L483.3,94.3 L484.3,94.4 L485.3,94.5 L486.4,94.7 L487.4,94.8 L488.4,95.0 L489.4,95.3 L490.4,95.5 L491.4,95.7 L492.4,96.0 L493.4,96.3 L494.4,96.6 L495.4,96.9 L496.4,97.2 L497.4,97.5 L498.3,97.9 L499.3,98.2 L500.3,98.6 L501.3,98.9 L502.2,99.3 L503.2,99.7 L504.2,100.1 L505.2,100.5 L506.1,100.8 L507.1,101.2 L508.0,101.6 L509.0,102.0 L510.0,102.4 L510.9,102.8 L511.9,103.2 L512.8,103.7 L513.8,104.1 L514.7,104.5 L515.7,104.9 L516.6,105.3 L517.6,105.8 L518.5,106.2 L519.4,106.6 L520.3,107.1 L521.3,107.6 L522.2,108.0 L523.1,108.5 L524.0,109.0 L524.9,109.5 L525.8,110.0 L526.6,110.6 L527.5,111.1 L528.4,111.7 L529.2,112.2 L530.1,112.8 L530.9,113.4 L531.8,114.0 L532.6,114.6 L533.5,115.2 L534.3,115.8 L535.1,116.4 L535.9,117.0 L536.8,117.7 L537.6,118.3 L538.4,118.9 L539.2,119.6 L540.0,120.2 L540.9,120.8 L541.7,121.5 L542.5,122.1 L543.3,122.8 L544.1,123.4 L545.0,124.0 L545.8,124.7 L546.6,125.3 L547.5,125.9 L548.3,126.5 L549.1,127.1 L550.0,127.7 L550.8,128.3 L551.7,128.9 L552.5,129.5 L553.4,130.1 L554.3,130.6 L555.1,131.2 L556.0,131.8 L556.9,132.3 L557.7,132.9 L557.9,133.0 L557.9,216.4 Z" fill="#d19f82" clip-path="url(#cb2)"/>
<path d="M371.4,216.3 L372.4,216.3 L373.5,216.3 L374.5,216.2 L375.6,216.2 L376.7,216.2 L377.7,216.2 L378.8,216.1 L379.9,216.1 L381.0,216.1 L382.1,216.0 L383.3,216.0 L384.4,215.9 L385.5,215.9 L386.6,215.8 L387.7,215.7 L388.9,215.6 L390.0,215.5 L391.1,215.4 L392.2,215.3 L393.3,215.1 L394.4,215.0 L395.5,214.8 L396.6,214.6 L397.7,214.4 L398.8,214.1 L399.9,213.9 L400.9,213.6 L402.0,213.3 L403.0,212.9 L404.0,212.6 L405.0,212.2 L406.0,211.8 L407.0,211.3 L408.0,210.9 L408.9,210.4 L409.9,209.8 L410.8,209.3 L411.7,208.7 L412.6,208.1 L413.5,207.5 L414.4,206.9 L415.3,206.3 L416.1,205.6 L417.0,204.9 L417.8,204.2 L418.7,203.5 L419.5,202.8 L420.3,202.1 L421.1,201.3 L421.9,200.5 L422.7,199.8 L423.5,199.0 L424.3,198.2 L425.0,197.4 L425.8,196.6 L426.5,195.8 L427.3,195.0 L428.0,194.1 L428.8,193.3 L429.5,192.5 L430.2,191.6 L430.9,190.8 L431.7,190.0 L432.4,189.1 L433.1,188.3 L433.8,187.4 L434.5,186.6 L435.2,185.7 L435.9,184.8 L436.6,184.0 L437.2,183.1 L437.9,182.3 L438.6,181.4 L439.3,180.5 L439.9,179.7 L440.6,178.8 L441.3,177.9 L441.9,177.0 L442.6,176.1 L443.2,175.3 L443.9,174.4 L444.5,173.5 L445.2,172.6 L445.8,171.7 L446.4,170.8 L447.1,169.9 L447.7,169.0 L448.3,168.1 L448.9,167.2 L449.6,166.3 L450.2,165.4 L450.8,164.5 L451.4,163.6 L452.1,162.7 L452.7,161.8 L453.3,160.9 L453.9,160.0 L454.5,159.1 L455.1,158.2 L455.7,157.3 L456.3,156.4 L456.9,155.5 L457.5,154.5 L458.2,153.6 L458.8,152.7 L459.4,151.8 L460.0,150.9 L460.6,150.0 L461.2,149.1 L461.8,148.1 L462.4,147.2 L463.0,146.3 L463.6,145.4 L464.2,144.5 L464.8,143.5 L465.4,142.6 L466.0,141.7 L466.6,140.8 L467.2,139.9 L467.8,139.0 L468.4,138.0 L469.0,137.1 L469.7,136.2 L470.3,135.3 L470.9,134.4 L471.5,133.5 L472.1,132.5 L472.7,131.6 L473.4,130.7 L474.0,129.8 L474.6,128.9 L475.2,128.0 L475.8,127.1 L476.5,126.2 L477.1,125.3 L477.7,124.4 L478.4,123.5 L479.0,122.6 L479.7,121.7 L480.3,120.8 L480.9,119.9 L481.6,119.0 L482.2,118.1 L482.9,117.3 L483.6,116.4 L484.2,115.5 L484.9,114.6 L485.5,113.8 L486.2,112.9 L486.9,112.0 L487.6,111.2 L488.3,110.3 L488.9,109.5 L489.6,108.6 L490.3,107.8 L491.0,106.9 L491.7,106.1 L492.4,105.2 L493.1,104.4 L493.8,103.6 L494.6,102.8 L495.3,102.0 L496.0,101.1 L496.7,100.3 L497.5,99.5 L498.2,98.8 L499.0,98.0 L499.8,97.2 L500.5,96.4 L501.3,95.7 L502.1,94.9 L502.9,94.2 L503.7,93.4 L504.5,92.7 L505.4,92.0 L506.2,91.3 L507.1,90.6 L507.9,89.9 L508.8,89.2 L509.7,88.6 L510.6,87.9 L511.5,87.3 L512.5,86.7 L513.4,86.1 L514.4,85.5 L515.3,84.9 L516.3,84.3 L517.3,83.8 L518.3,83.3 L519.3,82.8 L520.3,82.3 L521.4,81.9 L522.4,81.5 L523.4,81.1 L524.5,80.8 L525.5,80.5 L526.6,80.2 L527.6,79.9 L528.7,79.7 L529.7,79.6 L530.8,79.4 L531.8,79.3 L532.9,79.3 L534.0,79.3 L535.0,79.4 L536.1,79.5 L537.1,79.6 L538.2,79.8 L539.2,80.0 L540.2,80.3 L541.3,80.6 L542.3,81.0 L543.3,81.3 L544.4,81.7 L545.4,82.2 L546.4,82.6 L547.4,83.1 L548.4,83.6 L549.4,84.1 L550.4,84.6 L551.4,85.1 L552.4,85.7 L553.4,86.2 L554.4,86.8 L555.4,87.3 L556.4,87.8 L557.4,88.4 L558.4,88.9 L559.3,89.5 L560.3,90.0 L561.3,90.5 L562.2,91.1 L563.2,91.6 L564.1,92.2 L565.1,92.8 L566.0,93.3 L567.0,93.9 L567.9,94.5 L568.8,95.0 L569.7,95.6 L570.6,96.2 L571.6,96.8 L572.5,97.4 L573.3,98.0 L574.2,98.6 L575.1,99.3 L576.0,99.9 L576.8,100.6 L577.7,101.2 L578.6,101.9 L579.4,102.6 L580.2,103.3 L581.1,104.0 L581.9,104.7 L582.7,105.4 L583.5,106.1 L584.3,106.9 L585.1,107.6 L585.9,108.4 L586.7,109.1 L587.5,109.9 L588.3,110.7 L589.0,111.5 L589.8,112.2 L590.6,113.0 L591.4,113.8 L592.1,114.6 L592.9,115.4 L593.7,116.2 L594.5,117.0 L595.2,117.8 L596.0,118.6 L596.8,119.4 L597.5,120.2 L598.3,120.9 L599.1,121.7 L599.9,122.5 L600.7,123.3 L601.5,124.0 L602.3,124.8 L603.1,125.6 L603.9,126.3 L604.7,127.0 L605.5,127.8 L606.3,128.5 L607.2,129.2 L608.0,130.0 L608.8,130.7 L609.6,131.4 L610.5,132.1 L611.3,132.9 L612.1,133.6 L612.9,134.3 L613.7,135.0 L614.5,135.8 L615.4,136.5 L616.2,137.3 L616.9,138.0 L617.7,138.8 L618.5,139.5 L619.3,140.3 L620.0,141.1 L620.8,141.9 L621.5,142.7 L622.3,143.5 L623.0,144.3 L623.7,145.2 L624.4,146.0 L625.1,146.9 L625.7,147.8 L626.4,148.7 L627.0,149.6 L627.6,150.5 L628.2,151.4 L628.8,152.3 L629.4,153.2 L630.0,154.2 L630.5,155.1 L631.0,156.1 L631.5,157.1 L632.0,158.1 L632.5,159.0 L632.9,160.0 L633.3,161.0 L633.8,162.0 L634.2,163.0 L634.6,164.0 L634.9,165.1 L635.3,166.1 L635.6,167.1 L636.0,168.1 L636.3,169.2 L636.6,170.2 L636.9,171.3 L637.2,172.3 L637.5,173.4 L637.8,174.4 L638.1,175.5 L638.4,176.5 L638.7,177.6 L638.9,178.7 L639.2,179.7 L639.5,180.8 L639.7,181.9 L640.0,182.9 L640.3,184.0 L640.5,185.1 L640.8,186.2 L641.1,187.2 L641.4,188.3 L641.6,189.4 L641.9,190.5 L642.2,191.5 L642.5,192.6 L642.8,193.7 L643.1,194.8 L643.5,195.9 L643.8,196.9 L644.1,198.0 L644.5,199.1 L644.9,200.1 L645.2,201.2 L645.6,202.3 L646.1,203.3 L646.5,204.3 L647.0,205.3 L647.5,206.3 L648.0,207.3 L648.5,208.2 L649.1,209.1 L649.7,209.9 L650.4,210.7 L651.1,211.5 L651.8,212.2 L652.6,212.9 L653.4,213.4 L654.3,214.0 L655.2,214.5 L656.2,214.9 L657.2,215.2 L658.3,215.6 L659.3,215.8 L660.4,216.0 L661.6,216.2 L662.7,216.4 L663.9,216.5 L665.0,216.6 L666.2,216.6 L667.4,216.6 L668.5,216.6 L669.7,216.6 L670.8,216.6 L672.0,216.5 L673.1,216.5 L674.2,216.4 L675.2,216.4 L676.3,216.3 L677.3,216.3 L678.2,216.2" fill="none" stroke="#1f77b4" stroke-width="1.3" stroke-linejoin="round"/>
<path d="M371.2,216.1 L372.3,215.8 L373.4,215.6 L374.4,215.3 L375.4,214.9 L376.4,214.6 L377.4,214.1 L378.3,213.7 L379.2,213.2 L380.1,212.7 L381.0,212.1 L381.8,211.6 L382.6,210.9 L383.4,210.3 L384.2,209.6 L384.9,209.0 L385.6,208.2 L386.3,207.5 L387.0,206.8 L387.7,206.0 L388.3,205.2 L389.0,204.4 L389.6,203.6 L390.2,202.7 L390.8,201.9 L391.4,201.0 L392.0,200.2 L392.5,199.3 L393.1,198.4 L393.7,197.5 L394.2,196.6 L394.7,195.7 L395.3,194.8 L395.8,193.9 L396.3,193.0 L396.8,192.1 L397.3,191.2 L397.8,190.3 L398.3,189.4 L398.8,188.5 L399.3,187.6 L399.8,186.7 L400.3,185.7 L400.7,184.8 L401.2,183.9 L401.7,183.0 L402.2,182.0 L402.6,181.1 L403.1,180.2 L403.5,179.3 L404.0,178.3 L404.4,177.4 L404.9,176.5 L405.4,175.5 L405.8,174.6 L406.3,173.7 L406.7,172.7 L407.2,171.8 L407.6,170.9 L408.1,169.9 L408.5,169.0 L409.0,168.1 L409.4,167.1 L409.9,166.2 L410.3,165.3 L410.8,164.3 L411.2,163.4 L411.7,162.5 L412.2,161.6 L412.6,160.6 L413.1,159.7 L413.5,158.8 L414.0,157.8 L414.4,156.9 L414.9,156.0 L415.4,155.1 L415.8,154.1 L416.3,153.2 L416.8,152.3 L417.3,151.4 L417.7,150.5 L418.2,149.5 L418.7,148.6 L419.2,147.7 L419.7,146.8 L420.2,145.9 L420.6,145.0 L421.1,144.1 L421.6,143.2 L422.1,142.3 L422.6,141.4 L423.2,140.5 L423.7,139.6 L424.2,138.7 L424.7,137.8 L425.2,136.9 L425.8,136.0 L426.3,135.1 L426.8,134.3 L427.4,133.4 L427.9,132.5 L428.5,131.6 L429.0,130.7 L429.6,129.9 L430.1,129.0 L430.7,128.2 L431.3,127.3 L431.9,126.4 L432.4,125.6 L433.0,124.7 L433.6,123.9 L434.2,123.0 L434.8,122.2 L435.5,121.4 L436.1,120.5 L436.7,119.7 L437.3,118.9 L438.0,118.1 L438.6,117.2 L439.3,116.4 L439.9,115.6 L440.6,114.8 L441.3,114.0 L442.0,113.2 L442.7,112.4 L443.4,111.6 L444.1,110.9 L444.8,110.1 L445.5,109.3 L446.2,108.6 L447.0,107.9 L447.7,107.1 L448.5,106.4 L449.2,105.7 L450.0,105.0 L450.8,104.4 L451.6,103.7 L452.4,103.1 L453.2,102.4 L454.0,101.8 L454.9,101.2 L455.7,100.7 L456.6,100.1 L457.5,99.6 L458.3,99.1 L459.2,98.6 L460.1,98.1 L461.1,97.7 L462.0,97.3 L462.9,96.9 L463.9,96.5 L464.8,96.2 L465.8,95.9 L466.8,95.6 L467.8,95.3 L468.8,95.1 L469.8,94.9 L470.8,94.7 L471.9,94.5 L472.9,94.4 L473.9,94.2 L475.0,94.2 L476.0,94.1 L477.1,94.0 L478.1,94.0 L479.1,94.0 L480.2,94.0 L481.2,94.1 L482.3,94.2 L483.3,94.3 L484.3,94.4 L485.3,94.5 L486.4,94.7 L487.4,94.8 L488.4,95.0 L489.4,95.3 L490.4,95.5 L491.4,95.7 L492.4,96.0 L493.4,96.3 L494.4,96.6 L495.4,96.9 L496.4,97.2 L497.4,97.5 L498.3,97.9 L499.3,98.2 L500.3,98.6 L501.3,98.9 L502.2,99.3 L503.2,99.7 L504.2,100.1 L505.2,100.5 L506.1,100.8 L507.1,101.2 L508.0,101.6 L509.0,102.0 L510.0,102.4 L510.9,102.8 L511.9,103.2 L512.8,103.7 L513.8,104.1 L514.7,104.5 L515.7,104.9 L516.6,105.3 L517.6,105.8 L518.5,106.2 L519.4,106.6 L520.3,107.1 L521.3,107.6 L522.2,108.0 L523.1,108.5 L524.0,109.0 L524.9,109.5 L525.8,110.0 L526.6,110.6 L527.5,111.1 L528.4,111.7 L529.2,112.2 L530.1,112.8 L530.9,113.4 L531.8,114.0 L532.6,114.6 L533.5,115.2 L534.3,115.8 L535.1,116.4 L535.9,117.0 L536.8,117.7 L537.6,118.3 L538.4,118.9 L539.2,119.6 L540.0,120.2 L540.9,120.8 L541.7,121.5 L542.5,122.1 L543.3,122.8 L544.1,123.4 L545.0,124.0 L545.8,124.7 L546.6,125.3 L547.5,125.9 L548.3,126.5 L549.1,127.1 L550.0,127.7 L550.8,128.3 L551.7,128.9 L552.5,129.5 L553.4,130.1 L554.3,130.6 L555.1,131.2 L556.0,131.8 L556.9,132.3 L557.7,132.9 L558.6,133.4 L559.5,134.0 L560.4,134.5 L561.2,135.1 L562.1,135.6 L563.0,136.2 L563.9,136.7 L564.7,137.3 L565.6,137.8 L566.5,138.4 L567.4,139.0 L568.2,139.5 L569.1,140.1 L569.9,140.6 L570.8,141.2 L571.7,141.8 L572.5,142.4 L573.4,143.0 L574.2,143.6 L575.1,144.1 L575.9,144.7 L576.8,145.3 L577.6,145.9 L578.5,146.5 L579.3,147.1 L580.2,147.7 L581.0,148.3 L581.9,148.8 L582.7,149.4 L583.6,150.0 L584.4,150.6 L585.3,151.2 L586.2,151.7 L587.0,152.3 L587.9,152.8 L588.8,153.4 L589.6,153.9 L590.5,154.5 L591.4,155.0 L592.3,155.5 L593.2,156.1 L594.1,156.6 L595.0,157.1 L595.9,157.6 L596.8,158.1 L597.7,158.6 L598.6,159.1 L599.6,159.5 L600.5,160.0 L601.4,160.5 L602.3,161.0 L603.2,161.5 L604.2,162.0 L605.1,162.4 L606.0,162.9 L606.9,163.4 L607.8,163.9 L608.8,164.4 L609.7,164.9 L610.6,165.4 L611.5,165.9 L612.4,166.4 L613.3,166.9 L614.2,167.4 L615.1,168.0 L616.0,168.5 L616.9,169.1 L617.7,169.6 L618.6,170.2 L619.5,170.8 L620.3,171.3 L621.2,171.9 L622.0,172.6 L622.8,173.2 L623.6,173.8 L624.4,174.5 L625.2,175.1 L625.9,175.8 L626.7,176.5 L627.4,177.2 L628.1,177.9 L628.8,178.7 L629.5,179.4 L630.1,180.2 L630.8,181.0 L631.4,181.8 L632.0,182.7 L632.6,183.5 L633.1,184.4 L633.7,185.3 L634.2,186.2 L634.7,187.1 L635.2,188.0 L635.7,188.9 L636.2,189.9 L636.7,190.8 L637.1,191.7 L637.6,192.7 L638.1,193.7 L638.6,194.6 L639.0,195.6 L639.5,196.5 L640.0,197.4 L640.5,198.4 L641.0,199.3 L641.5,200.2 L642.0,201.1 L642.6,202.0 L643.1,202.9 L643.7,203.8 L644.3,204.6 L644.9,205.5 L645.5,206.3 L646.1,207.1 L646.8,207.8 L647.5,208.6 L648.2,209.3 L648.9,210.0 L649.7,210.6 L650.4,211.3 L651.2,211.9 L652.1,212.4 L652.9,213.0 L653.8,213.5 L654.6,213.9 L655.6,214.3 L656.5,214.7 L657.4,215.1 L658.4,215.4 L659.4,215.7 L660.4,215.9 L661.4,216.1 L662.5,216.3 L663.5,216.4 L664.6,216.6 L665.6,216.6 L666.7,216.6 L667.7,216.6 L668.8,216.6 L669.9,216.6 L671.0,216.6 L672.0,216.6 L673.1,216.6 L674.2,216.6 L675.2,216.5 L676.3,216.4 L677.3,216.3 L678.3,216.1" fill="none" stroke="#ff7f0e" stroke-width="1.3" stroke-linejoin="round"/>
</g>
<path d="M371.30,216.40v2.6M371.30,20.35v-2.6M384.08,216.40v1.5M384.08,20.35v-1.5M396.87,216.40v1.5M396.87,20.35v-1.5M409.65,216.40v1.5M409.65,20.35v-1.5M422.43,216.40v2.6M422.43,20.35v-2.6M435.22,216.40v1.5M435.22,20.35v-1.5M448.00,216.40v1.5M448.00,20.35v-1.5M460.78,216.40v1.5M460.78,20.35v-1.5M473.57,216.40v2.6M473.57,20.35v-2.6M486.35,216.40v1.5M486.35,20.35v-1.5M499.13,216.40v1.5M499.13,20.35v-1.5M511.92,216.40v1.5M511.92,20.35v-1.5M524.70,216.40v2.6M524.70,20.35v-2.6M537.48,216.40v1.5M537.48,20.35v-1.5M550.27,216.40v1.5M550.27,20.35v-1.5M563.05,216.40v1.5M563.05,20.35v-1.5M575.83,216.40v2.6M575.83,20.35v-2.6M588.62,216.40v1.5M588.62,20.35v-1.5M601.40,216.40v1.5M601.40,20.35v-1.5M614.18,216.40v1.5M614.18,20.35v-1.5M626.97,216.40v2.6M626.97,20.35v-2.6M639.75,216.40v1.5M639.75,20.35v-1.5M652.53,216.40v1.5M652.53,20.35v-1.5M665.32,216.40v1.5M665.32,20.35v-1.5M678.10,216.40v2.6M678.10,20.35v-2.6M371.30,216.40h-2.6M678.10,216.40h2.6M371.30,208.24h-1.5M678.10,208.24h1.5M371.30,200.07h-1.5M678.10,200.07h1.5M371.30,191.91h-1.5M678.10,191.91h1.5M371.30,183.75h-1.5M678.10,183.75h1.5M371.30,175.59h-2.6M678.10,175.59h2.6M371.30,167.42h-1.5M678.10,167.42h1.5M371.30,159.26h-1.5M678.10,159.26h1.5M371.30,151.10h-1.5M678.10,151.10h1.5M371.30,142.94h-1.5M678.10,142.94h1.5M371.30,134.78h-2.6M678.10,134.78h2.6M371.30,126.61h-1.5M678.10,126.61h1.5M371.30,118.45h-1.5M678.10,118.45h1.5M371.30,110.29h-1.5M678.10,110.29h1.5M371.30,102.12h-1.5M678.10,102.12h1.5M371.30,93.96h-2.6M678.10,93.96h2.6M371.30,85.80h-1.5M678.10,85.80h1.5M371.30,77.64h-1.5M678.10,77.64h1.5M371.30,69.47h-1.5M678.10,69.47h1.5M371.30,61.31h-1.5M678.10,61.31h1.5M371.30,53.15h-2.6M678.10,53.15h2.6M371.30,44.99h-1.5M678.10,44.99h1.5M371.30,36.82h-1.5M678.10,36.82h1.5M371.30,28.66h-1.5M678.10,28.66h1.5" stroke="#000" stroke-width="0.8" fill="none"/>
<text transform="translate(371.30,229.70) scale(0.885,1)" text-anchor="middle" class="tl">0.0</text>
<text transform="translate(422.43,229.70) scale(0.885,1)" text-anchor="middle" class="tl">0.2</text>
<text transform="translate(473.57,229.70) scale(0.885,1)" text-anchor="middle" class="tl">0.4</text>
<text transform="translate(524.70,229.70) scale(0.885,1)" text-anchor="middle" class="tl">0.6</text>
<text transform="translate(575.83,229.70) scale(0.885,1)" text-anchor="middle" class="tl">0.8</text>
<text transform="translate(626.97,229.70) scale(0.885,1)" text-anchor="middle" class="tl">1.0</text>
<text transform="translate(678.10,229.70) scale(0.885,1)" text-anchor="middle" class="tl">1.2</text>
<text transform="translate(365.90,221.00) scale(0.885,1)" text-anchor="end" class="tl">0.0</text>
<text transform="translate(365.90,180.19) scale(0.885,1)" text-anchor="end" class="tl">0.5</text>
<text transform="translate(365.90,139.38) scale(0.885,1)" text-anchor="end" class="tl">1.0</text>
<text transform="translate(365.90,98.56) scale(0.885,1)" text-anchor="end" class="tl">1.5</text>
<text transform="translate(365.90,57.75) scale(0.885,1)" text-anchor="end" class="tl">2.0</text>
<text transform="translate(524.70,242.70)" text-anchor="middle" class="xl">saturation</text>
<text transform="translate(474.00,11.60) scale(0.86,1)" class="tt">Bound for</text>
<text transform="translate(530.30,11.60)" class="tt" font-style="italic">J</text>
<text transform="translate(538.70,6.00)" class="ts" font-style="italic">P</text>
<path d="M549.70,6.50h8.6M549.70,9.50h8.6" stroke="#333" stroke-width="0.75"/>
<text transform="translate(562.20,11.60) scale(0.85,1)" class="tn">0</text>
<path d="M569.50,3.50H575.10" stroke="#333" stroke-width="0.75"/>
<rect x="377.10" y="26.20" width="87.3" height="33" rx="2" fill="#fff" fill-opacity="0.8" stroke="#cccccc" stroke-width="0.8"/>
<path d="M380.70,34.30h22.9" stroke="#1f77b4" stroke-width="1.3"/>
<path d="M380.70,49.30h22.9" stroke="#ff7f0e" stroke-width="1.3"/>
<text transform="translate(411.50,37.80) scale(0.92,1)" class="lg">scenario C</text>
<text transform="translate(411.50,53.60) scale(0.92,1)" class="lg">BJvD19</text>
<text transform="translate(603.70,36.40)" text-anchor="middle" class="eos">E</text>
<text transform="translate(611.60,36.40) scale(1.05,1)" text-anchor="middle" class="eos">O</text>
<text transform="translate(620.20,36.40) scale(1.03,1)" text-anchor="middle" class="eos">S</text>
<text transform="translate(631.20,36.40) scale(1.05,1)" text-anchor="middle" class="eos">v</text>
<text transform="translate(638.90,36.40) scale(1.2,1)" text-anchor="middle" class="eos">0</text>
<text transform="translate(644.40,36.40) scale(1.2,1)" text-anchor="middle" class="eos">.</text>
<text transform="translate(650.40,36.40) scale(1.2,1)" text-anchor="middle" class="eos">3</text>
<text transform="translate(656.00,36.40) scale(1.2,1)" text-anchor="middle" class="eos">.</text>
<text transform="translate(661.80,36.40) scale(1.35,1)" text-anchor="middle" class="eos">1</text>
<clipPath id="cb3"><path d="M37.4,477.5 L37.4,389.1 L37.5,388.4 L37.5,387.7 L37.6,387.0 L37.6,386.2 L37.7,385.5 L37.8,384.8 L37.8,384.0 L37.9,383.3 L37.9,382.6 L38.0,381.8 L38.0,381.1 L38.1,380.4 L38.2,379.7 L38.2,378.9 L38.3,378.2 L38.3,377.5 L38.4,376.8 L38.4,376.0 L38.5,375.3 L38.5,374.6 L38.6,373.9 L38.6,373.1 L38.7,372.4 L38.8,371.7 L38.8,371.0 L38.9,370.2 L38.9,369.5 L39.0,368.8 L39.1,368.1 L39.1,367.3 L39.2,366.6 L39.2,365.9 L39.3,365.1 L39.4,364.4 L39.5,363.6 L39.5,362.9 L39.6,362.1 L39.7,361.4 L39.8,360.6 L39.9,359.9 L40.0,359.1 L40.0,358.4 L40.1,357.6 L40.2,356.8 L40.4,356.0 L40.5,355.3 L40.6,354.5 L40.7,353.7 L40.8,352.9 L40.9,352.1 L41.1,351.3 L41.2,350.5 L41.3,349.7 L41.5,348.8 L41.6,348.0 L41.8,347.3 L42.0,346.6 L42.2,345.9 L42.5,345.4 L42.7,344.9 L43.0,344.5 L43.4,344.3 L43.8,344.3 L44.2,344.3 L44.6,344.6 L45.1,344.9 L45.5,345.4 L46.0,345.9 L46.3,346.5 L46.7,347.2 L46.9,347.9 L47.1,348.7 L47.3,349.4 L47.4,350.2 L47.5,351.0 L47.6,351.8 L47.7,352.6 L47.9,353.4 L48.0,354.2 L48.1,355.0 L48.1,355.7 L48.2,356.5 L48.3,357.3 L48.4,358.0 L48.5,358.8 L48.6,359.5 L48.7,360.2 L48.8,361.0 L48.9,361.7 L49.0,362.4 L49.1,363.2 L49.1,363.9 L49.2,364.6 L49.3,365.4 L49.4,366.1 L49.5,366.8 L49.6,367.6 L49.7,368.3 L49.7,369.0 L49.8,369.8 L49.9,370.5 L50.0,371.2 L50.1,372.0 L50.2,372.7 L50.3,373.5 L50.3,374.2 L50.4,374.9 L50.5,375.7 L50.6,376.4 L50.7,377.1 L50.8,377.9 L50.8,378.6 L50.9,379.3 L51.0,380.1 L51.1,380.8 L51.2,381.5 L51.2,382.3 L51.3,383.0 L51.4,383.7 L51.5,384.5 L51.6,385.2 L51.7,386.0 L51.7,386.7 L51.8,387.4 L51.9,388.2 L52.0,388.9 L52.1,389.6 L52.2,390.4 L52.3,391.1 L52.3,391.8 L52.4,392.6 L52.5,393.3 L52.6,394.0 L52.7,394.8 L52.7,394.9 L52.7,477.5 Z"/></clipPath>
<clipPath id="ca3"><rect x="24.5" y="281.8" width="301.60" height="195.55"/></clipPath>
<rect x="24.5" y="282.0" width="301.60" height="195.50" fill="none" stroke="#000" stroke-width="1.0"/>
<g clip-path="url(#ca3)">
<path d="M37.4,477.5 L37.4,389.1 L37.5,388.4 L37.5,387.7 L37.6,387.0 L37.6,386.2 L37.7,385.5 L37.8,384.8 L37.8,384.0 L37.9,383.3 L37.9,382.6 L38.0,381.8 L38.0,381.1 L38.1,380.4 L38.2,379.7 L38.2,378.9 L38.3,378.2 L38.3,377.5 L38.4,376.8 L38.4,376.0 L38.5,375.3 L38.5,374.6 L38.6,373.9 L38.6,373.1 L38.7,372.4 L38.8,371.7 L38.8,371.0 L38.9,370.2 L38.9,369.5 L39.0,368.8 L39.1,368.1 L39.1,367.3 L39.2,366.6 L39.2,365.9 L39.3,365.1 L39.4,364.4 L39.5,363.6 L39.5,362.9 L39.6,362.1 L39.7,361.4 L39.8,360.6 L39.9,359.9 L40.0,359.1 L40.0,358.4 L40.1,357.6 L40.2,356.8 L40.4,356.0 L40.5,355.3 L40.6,354.5 L40.7,353.7 L40.8,352.9 L40.9,352.1 L41.1,351.3 L41.2,350.5 L41.3,349.7 L41.5,348.8 L41.6,348.0 L41.8,347.3 L42.0,346.6 L42.2,345.9 L42.5,345.4 L42.7,344.9 L43.0,344.5 L43.4,344.3 L43.8,344.3 L44.2,344.3 L44.6,344.6 L45.1,344.9 L45.5,345.4 L46.0,345.9 L46.3,346.5 L46.7,347.2 L46.9,347.9 L47.1,348.7 L47.3,349.4 L47.4,350.2 L47.5,351.0 L47.6,351.8 L47.7,352.6 L47.9,353.4 L48.0,354.2 L48.1,355.0 L48.1,355.7 L48.2,356.5 L48.3,357.3 L48.4,358.0 L48.5,358.8 L48.6,359.5 L48.7,360.2 L48.8,361.0 L48.9,361.7 L49.0,362.4 L49.1,363.2 L49.1,363.9 L49.2,364.6 L49.3,365.4 L49.4,366.1 L49.5,366.8 L49.6,367.6 L49.7,368.3 L49.7,369.0 L49.8,369.8 L49.9,370.5 L50.0,371.2 L50.1,372.0 L50.2,372.7 L50.3,373.5 L50.3,374.2 L50.4,374.9 L50.5,375.7 L50.6,376.4 L50.7,377.1 L50.8,377.9 L50.8,378.6 L50.9,379.3 L51.0,380.1 L51.1,380.8 L51.2,381.5 L51.2,382.3 L51.3,383.0 L51.4,383.7 L51.5,384.5 L51.6,385.2 L51.7,386.0 L51.7,386.7 L51.8,387.4 L51.9,388.2 L52.0,388.9 L52.1,389.6 L52.2,390.4 L52.3,391.1 L52.3,391.8 L52.4,392.6 L52.5,393.3 L52.6,394.0 L52.7,394.8 L52.7,394.9 L52.7,477.5 Z" fill="#a8bce2"/>
<path d="M31.3,477.5 L31.3,383.0 L31.3,382.6 L31.4,381.9 L31.4,381.2 L31.5,380.4 L31.5,379.7 L31.6,379.0 L31.6,378.3 L31.7,377.5 L31.8,376.8 L31.8,376.1 L31.9,375.3 L31.9,374.6 L32.0,373.9 L32.0,373.1 L32.1,372.4 L32.2,371.7 L32.2,371.0 L32.3,370.2 L32.4,369.5 L32.4,368.8 L32.5,368.0 L32.6,367.3 L32.6,366.6 L32.7,365.8 L32.8,365.1 L32.8,364.4 L32.9,363.7 L33.0,362.9 L33.1,362.2 L33.1,361.5 L33.2,360.7 L33.3,360.0 L33.3,359.3 L33.4,358.5 L33.5,357.8 L33.5,357.1 L33.6,356.4 L33.7,355.6 L33.8,354.9 L33.8,354.2 L33.9,353.4 L34.0,352.7 L34.0,351.9 L34.1,351.2 L34.1,350.5 L34.2,349.7 L34.3,349.0 L34.3,348.2 L34.4,347.5 L34.5,346.8 L34.5,346.0 L34.6,345.3 L34.8,344.5 L34.9,343.8 L35.2,343.0 L35.4,342.2 L35.8,341.5 L36.2,340.8 L36.6,340.3 L37.0,340.0 L37.4,340.0 L37.8,340.2 L38.1,340.6 L38.5,341.1 L38.9,341.7 L39.2,342.4 L39.5,343.2 L39.7,343.9 L40.0,344.7 L40.2,345.4 L40.4,346.1 L40.6,346.9 L40.8,347.6 L40.9,348.3 L41.0,349.1 L41.2,349.8 L41.3,350.5 L41.4,351.2 L41.5,352.0 L41.6,352.7 L41.7,353.4 L41.8,354.2 L41.9,354.9 L42.0,355.6 L42.1,356.3 L42.2,357.1 L42.3,357.8 L42.4,358.5 L42.5,359.2 L42.6,360.0 L42.7,360.7 L42.9,361.4 L43.0,362.2 L43.1,362.9 L43.2,363.6 L43.3,364.3 L43.4,365.1 L43.5,365.8 L43.6,366.5 L43.7,367.2 L43.8,368.0 L43.9,368.7 L44.0,369.4 L44.1,370.1 L44.2,370.9 L44.3,371.6 L44.4,372.3 L44.5,373.1 L44.6,373.8 L44.7,374.5 L44.8,375.2 L44.9,376.0 L45.0,376.7 L45.1,377.4 L45.2,378.1 L45.3,378.9 L45.4,379.6 L45.5,380.3 L45.6,381.0 L45.7,381.8 L45.8,382.5 L45.9,383.2 L46.0,384.0 L46.1,384.7 L46.2,385.4 L46.2,386.1 L46.3,386.9 L46.4,387.6 L46.5,388.3 L46.6,388.7 L46.6,477.5 Z" fill="#ffc48c"/>
<path d="M31.3,477.5 L31.3,383.0 L31.3,382.6 L31.4,381.9 L31.4,381.2 L31.5,380.4 L31.5,379.7 L31.6,379.0 L31.6,378.3 L31.7,377.5 L31.8,376.8 L31.8,376.1 L31.9,375.3 L31.9,374.6 L32.0,373.9 L32.0,373.1 L32.1,372.4 L32.2,371.7 L32.2,371.0 L32.3,370.2 L32.4,369.5 L32.4,368.8 L32.5,368.0 L32.6,367.3 L32.6,366.6 L32.7,365.8 L32.8,365.1 L32.8,364.4 L32.9,363.7 L33.0,362.9 L33.1,362.2 L33.1,361.5 L33.2,360.7 L33.3,360.0 L33.3,359.3 L33.4,358.5 L33.5,357.8 L33.5,357.1 L33.6,356.4 L33.7,355.6 L33.8,354.9 L33.8,354.2 L33.9,353.4 L34.0,352.7 L34.0,351.9 L34.1,351.2 L34.1,350.5 L34.2,349.7 L34.3,349.0 L34.3,348.2 L34.4,347.5 L34.5,346.8 L34.5,346.0 L34.6,345.3 L34.8,344.5 L34.9,343.8 L35.2,343.0 L35.4,342.2 L35.8,341.5 L36.2,340.8 L36.6,340.3 L37.0,340.0 L37.4,340.0 L37.8,340.2 L38.1,340.6 L38.5,341.1 L38.9,341.7 L39.2,342.4 L39.5,343.2 L39.7,343.9 L40.0,344.7 L40.2,345.4 L40.4,346.1 L40.6,346.9 L40.8,347.6 L40.9,348.3 L41.0,349.1 L41.2,349.8 L41.3,350.5 L41.4,351.2 L41.5,352.0 L41.6,352.7 L41.7,353.4 L41.8,354.2 L41.9,354.9 L42.0,355.6 L42.1,356.3 L42.2,357.1 L42.3,357.8 L42.4,358.5 L42.5,359.2 L42.6,360.0 L42.7,360.7 L42.9,361.4 L43.0,362.2 L43.1,362.9 L43.2,363.6 L43.3,364.3 L43.4,365.1 L43.5,365.8 L43.6,366.5 L43.7,367.2 L43.8,368.0 L43.9,368.7 L44.0,369.4 L44.1,370.1 L44.2,370.9 L44.3,371.6 L44.4,372.3 L44.5,373.1 L44.6,373.8 L44.7,374.5 L44.8,375.2 L44.9,376.0 L45.0,376.7 L45.1,377.4 L45.2,378.1 L45.3,378.9 L45.4,379.6 L45.5,380.3 L45.6,381.0 L45.7,381.8 L45.8,382.5 L45.9,383.2 L46.0,384.0 L46.1,384.7 L46.2,385.4 L46.2,386.1 L46.3,386.9 L46.4,387.6 L46.5,388.3 L46.6,388.7 L46.6,477.5 Z" fill="#d19f82" clip-path="url(#cb3)"/>
<path d="M24.5,477.7 L25.2,477.3 L25.7,476.8 L26.3,476.4 L26.7,475.9 L27.2,475.3 L27.6,474.8 L28.0,474.2 L28.3,473.5 L28.6,472.9 L28.9,472.2 L29.1,471.6 L29.3,470.9 L29.5,470.1 L29.7,469.4 L29.9,468.7 L30.0,467.9 L30.1,467.2 L30.2,466.4 L30.3,465.6 L30.4,464.8 L30.5,464.1 L30.6,463.3 L30.7,462.5 L30.8,461.8 L30.9,461.0 L30.9,460.3 L31.0,459.5 L31.1,458.8 L31.2,458.0 L31.3,457.3 L31.3,456.5 L31.4,455.8 L31.5,455.0 L31.6,454.3 L31.6,453.5 L31.7,452.8 L31.8,452.1 L31.8,451.3 L31.9,450.6 L32.0,449.9 L32.0,449.1 L32.1,448.4 L32.2,447.7 L32.2,446.9 L32.3,446.2 L32.4,445.5 L32.4,444.7 L32.5,444.0 L32.5,443.3 L32.6,442.6 L32.7,441.8 L32.7,441.1 L32.8,440.4 L32.9,439.6 L32.9,438.9 L33.0,438.2 L33.1,437.4 L33.1,436.7 L33.2,436.0 L33.2,435.2 L33.3,434.5 L33.4,433.8 L33.4,433.0 L33.5,432.3 L33.6,431.6 L33.6,430.8 L33.7,430.1 L33.8,429.3 L33.8,428.6 L33.9,427.9 L34.0,427.1 L34.0,426.4 L34.1,425.6 L34.2,424.9 L34.3,424.1 L34.3,423.4 L34.4,422.7 L34.5,421.9 L34.5,421.2 L34.6,420.4 L34.7,419.7 L34.7,418.9 L34.8,418.2 L34.9,417.4 L34.9,416.7 L35.0,416.0 L35.1,415.2 L35.1,414.5 L35.2,413.7 L35.3,413.0 L35.4,412.2 L35.4,411.5 L35.5,410.7 L35.6,410.0 L35.6,409.2 L35.7,408.5 L35.8,407.7 L35.8,407.0 L35.9,406.3 L36.0,405.5 L36.0,404.8 L36.1,404.0 L36.2,403.3 L36.2,402.5 L36.3,401.8 L36.4,401.0 L36.4,400.3 L36.5,399.5 L36.6,398.8 L36.6,398.1 L36.7,397.3 L36.8,396.6 L36.8,395.8 L36.9,395.1 L37.0,394.3 L37.0,393.6 L37.1,392.9 L37.1,392.1 L37.2,391.4 L37.3,390.6 L37.3,389.9 L37.4,389.2 L37.5,388.4 L37.5,387.7 L37.6,387.0 L37.6,386.2 L37.7,385.5 L37.8,384.8 L37.8,384.0 L37.9,383.3 L37.9,382.6 L38.0,381.8 L38.0,381.1 L38.1,380.4 L38.2,379.7 L38.2,378.9 L38.3,378.2 L38.3,377.5 L38.4,376.8 L38.4,376.0 L38.5,375.3 L38.5,374.6 L38.6,373.9 L38.6,373.1 L38.7,372.4 L38.8,371.7 L38.8,371.0 L38.9,370.2 L38.9,369.5 L39.0,368.8 L39.1,368.1 L39.1,367.3 L39.2,366.6 L39.2,365.9 L39.3,365.1 L39.4,364.4 L39.5,363.6 L39.5,362.9 L39.6,362.1 L39.7,361.4 L39.8,360.6 L39.9,359.9 L40.0,359.1 L40.0,358.4 L40.1,357.6 L40.2,356.8 L40.4,356.0 L40.5,355.3 L40.6,354.5 L40.7,353.7 L40.8,352.9 L40.9,352.1 L41.1,351.3 L41.2,350.5 L41.3,349.7 L41.5,348.8 L41.6,348.0 L41.8,347.3 L42.0,346.6 L42.2,345.9 L42.5,345.4 L42.7,344.9 L43.0,344.5 L43.4,344.3 L43.8,344.3 L44.2,344.3 L44.6,344.6 L45.1,344.9 L45.5,345.4 L46.0,345.9 L46.3,346.5 L46.7,347.2 L46.9,347.9 L47.1,348.7 L47.3,349.4 L47.4,350.2 L47.5,351.0 L47.6,351.8 L47.7,352.6 L47.9,353.4 L48.0,354.2 L48.1,355.0 L48.1,355.7 L48.2,356.5 L48.3,357.3 L48.4,358.0 L48.5,358.8 L48.6,359.5 L48.7,360.2 L48.8,361.0 L48.9,361.7 L49.0,362.4 L49.1,363.2 L49.1,363.9 L49.2,364.6 L49.3,365.4 L49.4,366.1 L49.5,366.8 L49.6,367.6 L49.7,368.3 L49.7,369.0 L49.8,369.8 L49.9,370.5 L50.0,371.2 L50.1,372.0 L50.2,372.7 L50.3,373.5 L50.3,374.2 L50.4,374.9 L50.5,375.7 L50.6,376.4 L50.7,377.1 L50.8,377.9 L50.8,378.6 L50.9,379.3 L51.0,380.1 L51.1,380.8 L51.2,381.5 L51.2,382.3 L51.3,383.0 L51.4,383.7 L51.5,384.5 L51.6,385.2 L51.7,386.0 L51.7,386.7 L51.8,387.4 L51.9,388.2 L52.0,388.9 L52.1,389.6 L52.2,390.4 L52.3,391.1 L52.3,391.8 L52.4,392.6 L52.5,393.3 L52.6,394.0 L52.7,394.8 L52.8,395.5 L52.9,396.3 L52.9,397.0 L53.0,397.7 L53.1,398.5 L53.2,399.2 L53.3,399.9 L53.4,400.7 L53.5,401.4 L53.6,402.1 L53.7,402.9 L53.7,403.6 L53.8,404.3 L53.9,405.1 L54.0,405.8 L54.1,406.6 L54.2,407.3 L54.3,408.0 L54.4,408.8 L54.5,409.5 L54.6,410.2 L54.7,411.0 L54.8,411.7 L54.9,412.4 L55.0,413.2 L55.1,413.9 L55.2,414.6 L55.3,415.4 L55.4,416.1 L55.5,416.9 L55.6,417.6 L55.7,418.3 L55.8,419.1 L55.9,419.8 L56.0,420.5 L56.1,421.3 L56.2,422.0 L56.3,422.7 L56.4,423.5 L56.6,424.2 L56.7,424.9 L56.8,425.7 L56.9,426.4 L57.0,427.2 L57.1,427.9 L57.2,428.6 L57.4,429.4 L57.5,430.1 L57.6,430.8 L57.7,431.6 L57.8,432.3 L58.0,433.0 L58.1,433.8 L58.2,434.5 L58.4,435.2 L58.5,436.0 L58.6,436.7 L58.7,437.4 L58.9,438.2 L59.0,438.9 L59.1,439.6 L59.3,440.4 L59.4,441.1 L59.6,441.8 L59.7,442.6 L59.8,443.3 L60.0,444.0 L60.1,444.8 L60.3,445.5 L60.4,446.2 L60.6,447.0 L60.7,447.7 L60.9,448.4 L61.0,449.2 L61.2,449.9 L61.3,450.7 L61.5,451.4 L61.7,452.1 L61.8,452.8 L62.0,453.6 L62.1,454.3 L62.3,455.0 L62.5,455.8 L62.7,456.5 L62.9,457.2 L63.0,457.9 L63.2,458.7 L63.5,459.4 L63.7,460.1 L63.9,460.8 L64.1,461.5 L64.4,462.2 L64.6,462.9 L64.9,463.5 L65.2,464.2 L65.5,464.9 L65.8,465.5 L66.1,466.2 L66.5,466.8 L66.8,467.4 L67.2,468.1 L67.6,468.7 L68.0,469.3 L68.4,469.9 L68.9,470.4 L69.4,471.0 L69.9,471.5 L70.4,472.1 L70.9,472.6 L71.5,473.1 L72.1,473.6 L72.6,474.1 L73.3,474.5 L73.9,474.9 L74.5,475.3 L75.2,475.7 L75.9,476.1 L76.6,476.4 L77.2,476.7 L78.0,476.9 L78.7,477.1 L79.4,477.3 L80.1,477.4 L80.9,477.5 L81.6,477.6 L82.3,477.6 L83.1,477.6 L83.8,477.5 L84.6,477.5 L85.3,477.4 L86.1,477.4 L86.9,477.3 L87.6,477.2 L88.4,477.1 L89.1,477.1 L89.9,477.0 L90.6,477.0 L91.4,477.0 L92.1,477.0 L92.8,477.1 L93.6,477.2 L94.3,477.3 L95.0,477.5 L326.1,477.7" fill="none" stroke="#1f77b4" stroke-width="1.3" stroke-linejoin="round"/>
<path d="M24.9,477.1 L25.0,476.4 L25.1,475.6 L25.2,474.9 L25.3,474.2 L25.3,473.5 L25.4,472.7 L25.5,472.0 L25.6,471.3 L25.7,470.5 L25.8,469.8 L25.8,469.1 L25.9,468.4 L26.0,467.6 L26.1,466.9 L26.1,466.2 L26.2,465.5 L26.3,464.7 L26.4,464.0 L26.4,463.3 L26.5,462.5 L26.6,461.8 L26.6,461.1 L26.7,460.4 L26.8,459.6 L26.8,458.9 L26.9,458.2 L26.9,457.4 L27.0,456.7 L27.1,456.0 L27.1,455.2 L27.2,454.5 L27.2,453.8 L27.3,453.1 L27.4,452.3 L27.4,451.6 L27.5,450.9 L27.5,450.1 L27.6,449.4 L27.6,448.7 L27.7,447.9 L27.7,447.2 L27.8,446.5 L27.8,445.7 L27.9,445.0 L27.9,444.3 L28.0,443.5 L28.0,442.8 L28.1,442.1 L28.1,441.3 L28.2,440.6 L28.2,439.9 L28.3,439.1 L28.3,438.4 L28.3,437.7 L28.4,436.9 L28.4,436.2 L28.5,435.5 L28.5,434.7 L28.6,434.0 L28.6,433.3 L28.6,432.5 L28.7,431.8 L28.7,431.1 L28.8,430.3 L28.8,429.6 L28.8,428.9 L28.9,428.1 L28.9,427.4 L28.9,426.7 L29.0,425.9 L29.0,425.2 L29.1,424.5 L29.1,423.7 L29.1,423.0 L29.2,422.3 L29.2,421.5 L29.2,420.8 L29.3,420.1 L29.3,419.3 L29.4,418.6 L29.4,417.9 L29.4,417.1 L29.5,416.4 L29.5,415.7 L29.5,414.9 L29.6,414.2 L29.6,413.5 L29.6,412.7 L29.7,412.0 L29.7,411.2 L29.7,410.5 L29.8,409.8 L29.8,409.0 L29.9,408.3 L29.9,407.6 L29.9,406.8 L30.0,406.1 L30.0,405.4 L30.0,404.6 L30.1,403.9 L30.1,403.2 L30.2,402.4 L30.2,401.7 L30.2,401.0 L30.3,400.2 L30.3,399.5 L30.3,398.8 L30.4,398.0 L30.4,397.3 L30.5,396.6 L30.5,395.8 L30.5,395.1 L30.6,394.4 L30.6,393.6 L30.7,392.9 L30.7,392.2 L30.8,391.4 L30.8,390.7 L30.8,390.0 L30.9,389.2 L30.9,388.5 L31.0,387.8 L31.0,387.0 L31.1,386.3 L31.1,385.6 L31.2,384.8 L31.2,384.1 L31.3,383.4 L31.3,382.6 L31.4,381.9 L31.4,381.2 L31.5,380.4 L31.5,379.7 L31.6,379.0 L31.6,378.3 L31.7,377.5 L31.8,376.8 L31.8,376.1 L31.9,375.3 L31.9,374.6 L32.0,373.9 L32.0,373.1 L32.1,372.4 L32.2,371.7 L32.2,371.0 L32.3,370.2 L32.4,369.5 L32.4,368.8 L32.5,368.0 L32.6,367.3 L32.6,366.6 L32.7,365.8 L32.8,365.1 L32.8,364.4 L32.9,363.7 L33.0,362.9 L33.1,362.2 L33.1,361.5 L33.2,360.7 L33.3,360.0 L33.3,359.3 L33.4,358.5 L33.5,357.8 L33.5,357.1 L33.6,356.4 L33.7,355.6 L33.8,354.9 L33.8,354.2 L33.9,353.4 L34.0,352.7 L34.0,351.9 L34.1,351.2 L34.1,350.5 L34.2,349.7 L34.3,349.0 L34.3,348.2 L34.4,347.5 L34.5,346.8 L34.5,346.0 L34.6,345.3 L34.8,344.5 L34.9,343.8 L35.2,343.0 L35.4,342.2 L35.8,341.5 L36.2,340.8 L36.6,340.3 L37.0,340.0 L37.4,340.0 L37.8,340.2 L38.1,340.6 L38.5,341.1 L38.9,341.7 L39.2,342.4 L39.5,343.2 L39.7,343.9 L40.0,344.7 L40.2,345.4 L40.4,346.1 L40.6,346.9 L40.8,347.6 L40.9,348.3 L41.0,349.1 L41.2,349.8 L41.3,350.5 L41.4,351.2 L41.5,352.0 L41.6,352.7 L41.7,353.4 L41.8,354.2 L41.9,354.9 L42.0,355.6 L42.1,356.3 L42.2,357.1 L42.3,357.8 L42.4,358.5 L42.5,359.2 L42.6,360.0 L42.7,360.7 L42.9,361.4 L43.0,362.2 L43.1,362.9 L43.2,363.6 L43.3,364.3 L43.4,365.1 L43.5,365.8 L43.6,366.5 L43.7,367.2 L43.8,368.0 L43.9,368.7 L44.0,369.4 L44.1,370.1 L44.2,370.9 L44.3,371.6 L44.4,372.3 L44.5,373.1 L44.6,373.8 L44.7,374.5 L44.8,375.2 L44.9,376.0 L45.0,376.7 L45.1,377.4 L45.2,378.1 L45.3,378.9 L45.4,379.6 L45.5,380.3 L45.6,381.0 L45.7,381.8 L45.8,382.5 L45.9,383.2 L46.0,384.0 L46.1,384.7 L46.2,385.4 L46.2,386.1 L46.3,386.9 L46.4,387.6 L46.5,388.3 L46.6,389.0 L46.7,389.8 L46.8,390.5 L46.9,391.2 L47.0,391.9 L47.1,392.7 L47.2,393.4 L47.3,394.1 L47.4,394.8 L47.5,395.6 L47.6,396.3 L47.7,397.0 L47.8,397.7 L47.9,398.5 L48.0,399.2 L48.1,399.9 L48.2,400.7 L48.3,401.4 L48.4,402.1 L48.5,402.8 L48.6,403.6 L48.7,404.3 L48.8,405.0 L48.9,405.7 L49.0,406.5 L49.1,407.2 L49.2,407.9 L49.3,408.6 L49.4,409.4 L49.5,410.1 L49.6,410.8 L49.8,411.6 L49.9,412.3 L50.0,413.0 L50.1,413.7 L50.2,414.5 L50.3,415.2 L50.4,415.9 L50.5,416.6 L50.6,417.4 L50.7,418.1 L50.8,418.8 L50.9,419.5 L51.0,420.3 L51.1,421.0 L51.2,421.7 L51.3,422.5 L51.4,423.2 L51.5,423.9 L51.6,424.6 L51.7,425.4 L51.8,426.1 L51.9,426.8 L52.1,427.5 L52.2,428.3 L52.3,429.0 L52.4,429.7 L52.5,430.5 L52.6,431.2 L52.7,431.9 L52.8,432.6 L52.9,433.4 L53.0,434.1 L53.1,434.8 L53.3,435.6 L53.4,436.3 L53.5,437.0 L53.6,437.7 L53.7,438.5 L53.8,439.2 L53.9,439.9 L54.0,440.7 L54.2,441.4 L54.3,442.1 L54.4,442.8 L54.5,443.6 L54.6,444.3 L54.7,445.0 L54.9,445.8 L55.0,446.5 L55.1,447.2 L55.2,447.9 L55.3,448.7 L55.5,449.4 L55.6,450.1 L55.7,450.8 L55.9,451.6 L56.0,452.3 L56.2,453.0 L56.3,453.7 L56.5,454.5 L56.6,455.2 L56.8,455.9 L56.9,456.6 L57.1,457.3 L57.3,458.0 L57.5,458.7 L57.7,459.4 L57.9,460.1 L58.1,460.8 L58.3,461.5 L58.6,462.2 L58.8,462.9 L59.0,463.6 L59.3,464.3 L59.5,465.0 L59.8,465.6 L60.1,466.3 L60.4,467.0 L60.7,467.6 L61.0,468.3 L61.3,469.0 L61.7,469.6 L62.0,470.3 L62.4,470.9 L62.8,471.5 L63.2,472.1 L63.6,472.7 L64.1,473.2 L64.6,473.7 L65.1,474.2 L65.6,474.7 L66.2,475.1 L66.7,475.5 L67.4,475.8 L68.0,476.1 L68.7,476.3 L69.4,476.5 L70.2,476.7 L71.0,476.8 L71.8,476.9 L72.6,476.9 L73.4,477.0 L74.3,477.0 L75.1,477.0 L75.9,477.0 L76.7,477.0 L77.4,477.1 L78.1,477.1 L78.8,477.2 L79.4,477.3 L80.0,477.5 L326.1,477.7" fill="none" stroke="#ff7f0e" stroke-width="1.3" stroke-linejoin="round"/>
</g>
<path d="M24.50,477.50v2.6M24.50,282.00v-2.6M37.07,477.50v1.5M37.07,282.00v-1.5M49.63,477.50v1.5M49.63,282.00v-1.5M62.20,477.50v1.5M62.20,282.00v-1.5M74.77,477.50v2.6M74.77,282.00v-2.6M87.33,477.50v1.5M87.33,282.00v-1.5M99.90,477.50v1.5M99.90,282.00v-1.5M112.47,477.50v1.5M112.47,282.00v-1.5M125.03,477.50v2.6M125.03,282.00v-2.6M137.60,477.50v1.5M137.60,282.00v-1.5M150.17,477.50v1.5M150.17,282.00v-1.5M162.73,477.50v1.5M162.73,282.00v-1.5M175.30,477.50v2.6M175.30,282.00v-2.6M187.87,477.50v1.5M187.87,282.00v-1.5M200.43,477.50v1.5M200.43,282.00v-1.5M213.00,477.50v1.5M213.00,282.00v-1.5M225.57,477.50v2.6M225.57,282.00v-2.6M238.13,477.50v1.5M238.13,282.00v-1.5M250.70,477.50v1.5M250.70,282.00v-1.5M263.27,477.50v1.5M263.27,282.00v-1.5M275.83,477.50v2.6M275.83,282.00v-2.6M288.40,477.50v1.5M288.40,282.00v-1.5M300.97,477.50v1.5M300.97,282.00v-1.5M313.53,477.50v1.5M313.53,282.00v-1.5M326.10,477.50v2.6M326.10,282.00v-2.6M24.50,477.50h-2.6M326.10,477.50h2.6M24.50,472.06h-1.5M326.10,472.06h1.5M24.50,466.63h-1.5M326.10,466.63h1.5M24.50,461.19h-1.5M326.10,461.19h1.5M24.50,455.76h-2.6M326.10,455.76h2.6M24.50,450.32h-1.5M326.10,450.32h1.5M24.50,444.88h-1.5M326.10,444.88h1.5M24.50,439.45h-1.5M326.10,439.45h1.5M24.50,434.01h-2.6M326.10,434.01h2.6M24.50,428.57h-1.5M326.10,428.57h1.5M24.50,423.14h-1.5M326.10,423.14h1.5M24.50,417.70h-1.5M326.10,417.70h1.5M24.50,412.27h-2.6M326.10,412.27h2.6M24.50,406.83h-1.5M326.10,406.83h1.5M24.50,401.39h-1.5M326.10,401.39h1.5M24.50,395.96h-1.5M326.10,395.96h1.5M24.50,390.52h-2.6M326.10,390.52h2.6M24.50,385.09h-1.5M326.10,385.09h1.5M24.50,379.65h-1.5M326.10,379.65h1.5M24.50,374.21h-1.5M326.10,374.21h1.5M24.50,368.78h-2.6M326.10,368.78h2.6M24.50,363.34h-1.5M326.10,363.34h1.5M24.50,357.91h-1.5M326.10,357.91h1.5M24.50,352.47h-1.5M326.10,352.47h1.5M24.50,347.03h-2.6M326.10,347.03h2.6M24.50,341.60h-1.5M326.10,341.60h1.5M24.50,336.16h-1.5M326.10,336.16h1.5M24.50,330.73h-1.5M326.10,330.73h1.5M24.50,325.29h-2.6M326.10,325.29h2.6M24.50,319.85h-1.5M326.10,319.85h1.5M24.50,314.42h-1.5M326.10,314.42h1.5M24.50,308.98h-1.5M326.10,308.98h1.5M24.50,303.54h-2.6M326.10,303.54h2.6M24.50,298.11h-1.5M326.10,298.11h1.5M24.50,292.67h-1.5M326.10,292.67h1.5M24.50,287.24h-1.5M326.10,287.24h1.5M24.50,281.80h-2.6M326.10,281.80h2.6" stroke="#000" stroke-width="0.8" fill="none"/>
<text transform="translate(24.50,490.80) scale(0.885,1)" text-anchor="middle" class="tl">0.0</text>
<text transform="translate(74.77,490.80) scale(0.885,1)" text-anchor="middle" class="tl">0.2</text>
<text transform="translate(125.03,490.80) scale(0.885,1)" text-anchor="middle" class="tl">0.4</text>
<text transform="translate(175.30,490.80) scale(0.885,1)" text-anchor="middle" class="tl">0.6</text>
<text transform="translate(225.57,490.80) scale(0.885,1)" text-anchor="middle" class="tl">0.8</text>
<text transform="translate(275.83,490.80) scale(0.885,1)" text-anchor="middle" class="tl">1.0</text>
<text transform="translate(326.10,490.80) scale(0.885,1)" text-anchor="middle" class="tl">1.2</text>
<text transform="translate(19.10,482.10) scale(0.885,1)" text-anchor="end" class="tl">0.0</text>
<text transform="translate(19.10,460.36) scale(0.885,1)" text-anchor="end" class="tl">2.0</text>
<text transform="translate(19.10,438.61) scale(0.885,1)" text-anchor="end" class="tl">4.0</text>
<text transform="translate(19.10,416.87) scale(0.885,1)" text-anchor="end" class="tl">6.0</text>
<text transform="translate(19.10,395.12) scale(0.885,1)" text-anchor="end" class="tl">8.0</text>
<text transform="translate(19.10,373.38) scale(0.885,1)" text-anchor="end" class="tl">10.0</text>
<text transform="translate(19.10,351.63) scale(0.885,1)" text-anchor="end" class="tl">12.0</text>
<text transform="translate(19.10,329.89) scale(0.885,1)" text-anchor="end" class="tl">14.0</text>
<text transform="translate(19.10,308.14) scale(0.885,1)" text-anchor="end" class="tl">16.0</text>
<text transform="translate(19.10,286.40) scale(0.885,1)" text-anchor="end" class="tl">18.0</text>
<text transform="translate(175.30,503.80)" text-anchor="middle" class="xl">saturation</text>
<text transform="translate(124.60,272.90) scale(0.86,1)" class="tt">Bound for</text>
<text transform="translate(180.90,272.90)" class="tt" font-style="italic">J</text>
<text transform="translate(189.30,267.30)" class="ts" font-style="italic">P</text>
<path d="M200.30,268.50h8.6M200.30,270.50h8.6" stroke="#333" stroke-width="0.75"/>
<text transform="translate(212.80,272.90) scale(0.85,1)" class="tn">1</text>
<path d="M220.10,264.50H225.70M222.50,261.90v5.2" stroke="#333" stroke-width="0.75"/>
<rect x="30.30" y="287.50" width="87.3" height="33" rx="2" fill="#fff" fill-opacity="0.8" stroke="#cccccc" stroke-width="0.8"/>
<path d="M33.90,295.60h22.9" stroke="#1f77b4" stroke-width="1.3"/>
<path d="M33.90,310.60h22.9" stroke="#ff7f0e" stroke-width="1.3"/>
<text transform="translate(64.70,299.10) scale(0.92,1)" class="lg">scenario C</text>
<text transform="translate(64.70,314.90) scale(0.92,1)" class="lg">BJvD19</text>
<text transform="translate(251.70,297.70)" text-anchor="middle" class="eos">E</text>
<text transform="translate(259.60,297.70) scale(1.05,1)" text-anchor="middle" class="eos">O</text>
<text transform="translate(268.20,297.70) scale(1.03,1)" text-anchor="middle" class="eos">S</text>
<text transform="translate(279.20,297.70) scale(1.05,1)" text-anchor="middle" class="eos">v</text>
<text transform="translate(286.90,297.70) scale(1.2,1)" text-anchor="middle" class="eos">0</text>
<text transform="translate(292.40,297.70) scale(1.2,1)" text-anchor="middle" class="eos">.</text>
<text transform="translate(298.40,297.70) scale(1.2,1)" text-anchor="middle" class="eos">3</text>
<text transform="translate(304.00,297.70) scale(1.2,1)" text-anchor="middle" class="eos">.</text>
<text transform="translate(309.80,297.70) scale(1.35,1)" text-anchor="middle" class="eos">1</text>
<clipPath id="cb4"><path d="M389.6,477.5 L389.6,385.0 L389.6,384.9 L389.7,384.2 L389.7,383.5 L389.8,382.8 L389.9,382.1 L389.9,381.4 L390.0,380.7 L390.1,380.0 L390.1,379.3 L390.2,378.6 L390.3,377.9 L390.4,377.1 L390.4,376.4 L390.5,375.7 L390.6,375.0 L390.7,374.3 L390.7,373.6 L390.8,372.9 L390.9,372.2 L391.0,371.5 L391.0,370.7 L391.1,370.0 L391.2,369.3 L391.3,368.6 L391.4,367.8 L391.5,367.1 L391.5,366.4 L391.6,365.7 L391.7,364.9 L391.8,364.2 L391.9,363.4 L392.0,362.7 L392.1,362.0 L392.2,361.2 L392.3,360.5 L392.4,359.7 L392.5,359.0 L392.6,358.2 L392.7,357.4 L392.8,356.7 L392.9,355.9 L393.0,355.1 L393.1,354.3 L393.2,353.6 L393.3,352.8 L393.4,352.0 L393.5,351.3 L393.7,350.6 L393.9,349.9 L394.1,349.3 L394.4,348.8 L394.7,348.3 L395.1,348.0 L395.5,347.8 L396.0,347.7 L396.4,347.8 L396.8,348.0 L397.1,348.4 L397.4,348.9 L397.6,349.5 L397.8,350.1 L397.9,350.8 L398.1,351.5 L398.2,352.3 L398.4,353.0 L398.5,353.7 L398.7,354.4 L398.8,355.1 L399.0,355.8 L399.1,356.6 L399.3,357.3 L399.4,358.0 L399.6,358.7 L399.7,359.4 L399.8,360.1 L400.0,360.9 L400.1,361.6 L400.2,362.3 L400.4,363.0 L400.5,363.7 L400.6,364.4 L400.8,365.2 L400.9,365.9 L401.0,366.6 L401.1,367.3 L401.3,368.0 L401.4,368.7 L401.5,369.4 L401.6,370.2 L401.7,370.9 L401.9,371.6 L402.0,372.3 L402.1,373.0 L402.2,373.7 L402.3,374.4 L402.4,375.2 L402.5,375.9 L402.6,376.6 L402.8,377.3 L402.9,378.0 L403.0,378.7 L403.1,379.4 L403.2,380.2 L403.3,380.9 L403.4,381.6 L403.5,382.3 L403.6,383.0 L403.7,383.7 L403.8,384.4 L403.9,385.2 L404.0,385.9 L404.1,386.6 L404.2,387.3 L404.3,388.0 L404.4,388.7 L404.5,389.4 L404.6,390.1 L404.7,390.9 L404.8,391.6 L404.8,391.6 L404.8,477.5 Z"/></clipPath>
<clipPath id="ca4"><rect x="376.5" y="281.8" width="301.40" height="195.55"/></clipPath>
<rect x="376.5" y="282.0" width="301.40" height="195.50" fill="none" stroke="#000" stroke-width="1.0"/>
<g clip-path="url(#ca4)">
<path d="M389.6,477.5 L389.6,385.0 L389.6,384.9 L389.7,384.2 L389.7,383.5 L389.8,382.8 L389.9,382.1 L389.9,381.4 L390.0,380.7 L390.1,380.0 L390.1,379.3 L390.2,378.6 L390.3,377.9 L390.4,377.1 L390.4,376.4 L390.5,375.7 L390.6,375.0 L390.7,374.3 L390.7,373.6 L390.8,372.9 L390.9,372.2 L391.0,371.5 L391.0,370.7 L391.1,370.0 L391.2,369.3 L391.3,368.6 L391.4,367.8 L391.5,367.1 L391.5,366.4 L391.6,365.7 L391.7,364.9 L391.8,364.2 L391.9,363.4 L392.0,362.7 L392.1,362.0 L392.2,361.2 L392.3,360.5 L392.4,359.7 L392.5,359.0 L392.6,358.2 L392.7,357.4 L392.8,356.7 L392.9,355.9 L393.0,355.1 L393.1,354.3 L393.2,353.6 L393.3,352.8 L393.4,352.0 L393.5,351.3 L393.7,350.6 L393.9,349.9 L394.1,349.3 L394.4,348.8 L394.7,348.3 L395.1,348.0 L395.5,347.8 L396.0,347.7 L396.4,347.8 L396.8,348.0 L397.1,348.4 L397.4,348.9 L397.6,349.5 L397.8,350.1 L397.9,350.8 L398.1,351.5 L398.2,352.3 L398.4,353.0 L398.5,353.7 L398.7,354.4 L398.8,355.1 L399.0,355.8 L399.1,356.6 L399.3,357.3 L399.4,358.0 L399.6,358.7 L399.7,359.4 L399.8,360.1 L400.0,360.9 L400.1,361.6 L400.2,362.3 L400.4,363.0 L400.5,363.7 L400.6,364.4 L400.8,365.2 L400.9,365.9 L401.0,366.6 L401.1,367.3 L401.3,368.0 L401.4,368.7 L401.5,369.4 L401.6,370.2 L401.7,370.9 L401.9,371.6 L402.0,372.3 L402.1,373.0 L402.2,373.7 L402.3,374.4 L402.4,375.2 L402.5,375.9 L402.6,376.6 L402.8,377.3 L402.9,378.0 L403.0,378.7 L403.1,379.4 L403.2,380.2 L403.3,380.9 L403.4,381.6 L403.5,382.3 L403.6,383.0 L403.7,383.7 L403.8,384.4 L403.9,385.2 L404.0,385.9 L404.1,386.6 L404.2,387.3 L404.3,388.0 L404.4,388.7 L404.5,389.4 L404.6,390.1 L404.7,390.9 L404.8,391.6 L404.8,391.6 L404.8,477.5 Z" fill="#a8bce2"/>
<path d="M387.7,477.5 L387.7,405.0 L387.8,404.6 L387.9,404.0 L387.9,403.4 L388.0,402.8 L388.1,402.2 L388.2,401.6 L388.3,401.0 L388.4,400.4 L388.5,399.9 L388.6,399.3 L388.7,398.7 L388.8,398.1 L388.9,397.5 L389.0,396.9 L389.1,396.3 L389.2,395.7 L389.3,395.1 L389.4,394.6 L389.5,394.0 L389.6,393.4 L389.7,392.8 L389.8,392.2 L389.9,391.6 L390.0,391.0 L390.1,390.4 L390.2,389.8 L390.3,389.2 L390.4,388.6 L390.5,388.0 L390.6,387.4 L390.7,386.8 L390.8,386.2 L390.9,385.6 L391.0,385.0 L391.1,384.4 L391.2,383.7 L391.3,383.1 L391.4,382.5 L391.5,381.9 L391.6,381.2 L391.7,380.6 L391.7,380.0 L391.8,379.3 L391.9,378.7 L392.0,378.1 L392.1,377.4 L392.1,376.7 L392.2,376.1 L392.3,375.4 L392.4,374.8 L392.5,374.2 L392.6,373.6 L392.8,373.0 L393.0,372.5 L393.2,372.0 L393.5,371.6 L393.8,371.2 L394.3,371.0 L394.7,370.8 L395.2,370.7 L395.7,370.8 L396.1,371.2 L396.4,371.6 L396.8,372.1 L397.1,372.6 L397.4,373.1 L397.7,373.6 L397.9,374.2 L398.2,374.7 L398.4,375.3 L398.6,375.8 L398.9,376.4 L399.1,377.0 L399.3,377.5 L399.4,378.1 L399.6,378.7 L399.8,379.3 L400.0,379.9 L400.2,380.4 L400.3,381.0 L400.5,381.6 L400.7,382.2 L400.8,382.8 L401.0,383.4 L401.2,384.0 L401.3,384.6 L401.5,385.2 L401.6,385.8 L401.8,386.4 L401.9,387.0 L402.1,387.5 L402.2,388.1 L402.3,388.7 L402.5,389.3 L402.6,389.9 L402.7,390.5 L402.9,391.1 L403.0,391.7 L403.1,392.3 L403.3,392.9 L403.4,393.5 L403.5,394.1 L403.6,394.7 L403.7,395.3 L403.9,395.9 L404.0,396.5 L404.1,397.1 L404.2,397.7 L404.3,398.3 L404.4,398.9 L404.6,399.5 L404.7,400.1 L404.8,400.7 L404.9,401.3 L405.0,401.9 L405.1,402.5 L405.2,403.1 L405.3,403.7 L405.5,404.3 L405.6,404.9 L405.7,405.5 L405.8,406.1 L405.9,406.7 L406.0,407.3 L406.1,407.9 L406.3,408.5 L406.4,409.1 L406.5,409.7 L406.6,410.3 L406.7,410.9 L406.8,411.5 L407.0,412.1 L407.0,412.2 L407.0,477.5 Z" fill="#ffc48c"/>
<path d="M387.7,477.5 L387.7,405.0 L387.8,404.6 L387.9,404.0 L387.9,403.4 L388.0,402.8 L388.1,402.2 L388.2,401.6 L388.3,401.0 L388.4,400.4 L388.5,399.9 L388.6,399.3 L388.7,398.7 L388.8,398.1 L388.9,397.5 L389.0,396.9 L389.1,396.3 L389.2,395.7 L389.3,395.1 L389.4,394.6 L389.5,394.0 L389.6,393.4 L389.7,392.8 L389.8,392.2 L389.9,391.6 L390.0,391.0 L390.1,390.4 L390.2,389.8 L390.3,389.2 L390.4,388.6 L390.5,388.0 L390.6,387.4 L390.7,386.8 L390.8,386.2 L390.9,385.6 L391.0,385.0 L391.1,384.4 L391.2,383.7 L391.3,383.1 L391.4,382.5 L391.5,381.9 L391.6,381.2 L391.7,380.6 L391.7,380.0 L391.8,379.3 L391.9,378.7 L392.0,378.1 L392.1,377.4 L392.1,376.7 L392.2,376.1 L392.3,375.4 L392.4,374.8 L392.5,374.2 L392.6,373.6 L392.8,373.0 L393.0,372.5 L393.2,372.0 L393.5,371.6 L393.8,371.2 L394.3,371.0 L394.7,370.8 L395.2,370.7 L395.7,370.8 L396.1,371.2 L396.4,371.6 L396.8,372.1 L397.1,372.6 L397.4,373.1 L397.7,373.6 L397.9,374.2 L398.2,374.7 L398.4,375.3 L398.6,375.8 L398.9,376.4 L399.1,377.0 L399.3,377.5 L399.4,378.1 L399.6,378.7 L399.8,379.3 L400.0,379.9 L400.2,380.4 L400.3,381.0 L400.5,381.6 L400.7,382.2 L400.8,382.8 L401.0,383.4 L401.2,384.0 L401.3,384.6 L401.5,385.2 L401.6,385.8 L401.8,386.4 L401.9,387.0 L402.1,387.5 L402.2,388.1 L402.3,388.7 L402.5,389.3 L402.6,389.9 L402.7,390.5 L402.9,391.1 L403.0,391.7 L403.1,392.3 L403.3,392.9 L403.4,393.5 L403.5,394.1 L403.6,394.7 L403.7,395.3 L403.9,395.9 L404.0,396.5 L404.1,397.1 L404.2,397.7 L404.3,398.3 L404.4,398.9 L404.6,399.5 L404.7,400.1 L404.8,400.7 L404.9,401.3 L405.0,401.9 L405.1,402.5 L405.2,403.1 L405.3,403.7 L405.5,404.3 L405.6,404.9 L405.7,405.5 L405.8,406.1 L405.9,406.7 L406.0,407.3 L406.1,407.9 L406.3,408.5 L406.4,409.1 L406.5,409.7 L406.6,410.3 L406.7,410.9 L406.8,411.5 L407.0,412.1 L407.0,412.2 L407.0,477.5 Z" fill="#d19f82" clip-path="url(#cb4)"/>
<path d="M376.5,477.6 L377.3,477.4 L378.0,477.2 L378.7,476.9 L379.2,476.5 L379.7,476.1 L380.1,475.6 L380.5,475.0 L380.8,474.4 L381.1,473.8 L381.3,473.1 L381.5,472.4 L381.6,471.7 L381.8,470.9 L381.9,470.2 L382.0,469.5 L382.2,468.7 L382.3,468.0 L382.4,467.3 L382.5,466.5 L382.7,465.8 L382.8,465.1 L382.9,464.4 L383.0,463.6 L383.1,462.9 L383.2,462.2 L383.3,461.5 L383.4,460.8 L383.5,460.0 L383.6,459.3 L383.7,458.6 L383.8,457.9 L383.9,457.2 L384.0,456.5 L384.0,455.8 L384.1,455.0 L384.2,454.3 L384.3,453.6 L384.4,452.9 L384.4,452.2 L384.5,451.5 L384.6,450.8 L384.6,450.1 L384.7,449.4 L384.8,448.7 L384.8,448.0 L384.9,447.2 L385.0,446.5 L385.0,445.8 L385.1,445.1 L385.2,444.4 L385.2,443.7 L385.3,443.0 L385.3,442.3 L385.4,441.6 L385.5,440.9 L385.5,440.2 L385.6,439.5 L385.6,438.7 L385.7,438.0 L385.7,437.3 L385.8,436.6 L385.8,435.9 L385.9,435.2 L385.9,434.5 L386.0,433.7 L386.0,433.0 L386.1,432.3 L386.1,431.6 L386.2,430.9 L386.2,430.1 L386.3,429.4 L386.3,428.7 L386.4,428.0 L386.4,427.3 L386.5,426.5 L386.5,425.8 L386.6,425.1 L386.6,424.4 L386.7,423.7 L386.7,422.9 L386.8,422.2 L386.8,421.5 L386.9,420.8 L386.9,420.0 L387.0,419.3 L387.0,418.6 L387.1,417.9 L387.1,417.1 L387.2,416.4 L387.2,415.7 L387.3,415.0 L387.3,414.2 L387.4,413.5 L387.4,412.8 L387.5,412.1 L387.5,411.3 L387.6,410.6 L387.6,409.9 L387.7,409.2 L387.7,408.4 L387.8,407.7 L387.8,407.0 L387.9,406.3 L388.0,405.6 L388.0,404.8 L388.1,404.1 L388.1,403.4 L388.2,402.7 L388.2,401.9 L388.3,401.2 L388.3,400.5 L388.4,399.8 L388.4,399.1 L388.5,398.4 L388.5,397.6 L388.6,396.9 L388.7,396.2 L388.7,395.5 L388.8,394.8 L388.8,394.1 L388.9,393.4 L388.9,392.7 L389.0,391.9 L389.1,391.2 L389.1,390.5 L389.2,389.8 L389.2,389.1 L389.3,388.4 L389.4,387.7 L389.4,387.0 L389.5,386.3 L389.5,385.6 L389.6,384.9 L389.7,384.2 L389.7,383.5 L389.8,382.8 L389.9,382.1 L389.9,381.4 L390.0,380.7 L390.1,380.0 L390.1,379.3 L390.2,378.6 L390.3,377.9 L390.4,377.1 L390.4,376.4 L390.5,375.7 L390.6,375.0 L390.7,374.3 L390.7,373.6 L390.8,372.9 L390.9,372.2 L391.0,371.5 L391.0,370.7 L391.1,370.0 L391.2,369.3 L391.3,368.6 L391.4,367.8 L391.5,367.1 L391.5,366.4 L391.6,365.7 L391.7,364.9 L391.8,364.2 L391.9,363.4 L392.0,362.7 L392.1,362.0 L392.2,361.2 L392.3,360.5 L392.4,359.7 L392.5,359.0 L392.6,358.2 L392.7,357.4 L392.8,356.7 L392.9,355.9 L393.0,355.1 L393.1,354.3 L393.2,353.6 L393.3,352.8 L393.4,352.0 L393.5,351.3 L393.7,350.6 L393.9,349.9 L394.1,349.3 L394.4,348.8 L394.7,348.3 L395.1,348.0 L395.5,347.8 L396.0,347.7 L396.4,347.8 L396.8,348.0 L397.1,348.4 L397.4,348.9 L397.6,349.5 L397.8,350.1 L397.9,350.8 L398.1,351.5 L398.2,352.3 L398.4,353.0 L398.5,353.7 L398.7,354.4 L398.8,355.1 L399.0,355.8 L399.1,356.6 L399.3,357.3 L399.4,358.0 L399.6,358.7 L399.7,359.4 L399.8,360.1 L400.0,360.9 L400.1,361.6 L400.2,362.3 L400.4,363.0 L400.5,363.7 L400.6,364.4 L400.8,365.2 L400.9,365.9 L401.0,366.6 L401.1,367.3 L401.3,368.0 L401.4,368.7 L401.5,369.4 L401.6,370.2 L401.7,370.9 L401.9,371.6 L402.0,372.3 L402.1,373.0 L402.2,373.7 L402.3,374.4 L402.4,375.2 L402.5,375.9 L402.6,376.6 L402.8,377.3 L402.9,378.0 L403.0,378.7 L403.1,379.4 L403.2,380.2 L403.3,380.9 L403.4,381.6 L403.5,382.3 L403.6,383.0 L403.7,383.7 L403.8,384.4 L403.9,385.2 L404.0,385.9 L404.1,386.6 L404.2,387.3 L404.3,388.0 L404.4,388.7 L404.5,389.4 L404.6,390.1 L404.7,390.9 L404.8,391.6 L404.9,392.3 L405.0,393.0 L405.1,393.7 L405.2,394.4 L405.3,395.1 L405.4,395.8 L405.5,396.5 L405.6,397.3 L405.7,398.0 L405.8,398.7 L405.9,399.4 L406.0,400.1 L406.1,400.8 L406.2,401.5 L406.3,402.2 L406.3,402.9 L406.4,403.7 L406.5,404.4 L406.6,405.1 L406.7,405.8 L406.8,406.5 L406.9,407.2 L407.0,407.9 L407.1,408.6 L407.2,409.3 L407.3,410.1 L407.4,410.8 L407.5,411.5 L407.6,412.2 L407.7,412.9 L407.8,413.6 L408.0,414.3 L408.1,415.0 L408.2,415.7 L408.3,416.4 L408.4,417.1 L408.5,417.8 L408.6,418.6 L408.7,419.3 L408.8,420.0 L408.9,420.7 L409.0,421.4 L409.1,422.1 L409.3,422.8 L409.4,423.5 L409.5,424.2 L409.6,424.9 L409.7,425.6 L409.8,426.3 L410.0,427.0 L410.1,427.8 L410.2,428.5 L410.3,429.2 L410.5,429.9 L410.6,430.6 L410.7,431.3 L410.8,432.0 L411.0,432.7 L411.1,433.4 L411.2,434.1 L411.4,434.8 L411.5,435.5 L411.6,436.2 L411.8,436.9 L411.9,437.6 L412.1,438.3 L412.2,439.0 L412.3,439.8 L412.5,440.5 L412.6,441.2 L412.8,441.9 L412.9,442.6 L413.1,443.3 L413.2,444.0 L413.4,444.7 L413.5,445.4 L413.7,446.1 L413.8,446.8 L414.0,447.5 L414.1,448.2 L414.3,449.0 L414.4,449.7 L414.6,450.4 L414.8,451.1 L414.9,451.8 L415.1,452.5 L415.2,453.2 L415.4,453.9 L415.5,454.6 L415.7,455.4 L415.9,456.1 L416.0,456.8 L416.2,457.5 L416.4,458.2 L416.6,458.9 L416.7,459.6 L416.9,460.3 L417.1,461.0 L417.3,461.7 L417.6,462.4 L417.8,463.0 L418.0,463.7 L418.3,464.4 L418.6,465.0 L418.9,465.7 L419.2,466.3 L419.5,466.9 L419.8,467.5 L420.2,468.2 L420.5,468.7 L420.9,469.3 L421.4,469.9 L421.8,470.4 L422.3,471.0 L422.7,471.5 L423.2,472.0 L423.8,472.5 L424.3,473.0 L424.9,473.4 L425.5,473.9 L426.1,474.3 L426.7,474.7 L427.3,475.0 L428.0,475.4 L428.6,475.7 L429.3,476.0 L430.0,476.2 L430.7,476.5 L431.4,476.7 L432.1,476.8 L432.8,477.0 L433.5,477.1 L434.2,477.2 L434.9,477.2 L435.6,477.2 L436.4,477.2 L437.1,477.2 L437.8,477.2 L438.5,477.1 L439.3,477.1 L440.0,477.1 L440.7,477.0 L441.4,477.0 L442.2,477.1 L442.9,477.1 L443.6,477.2 L444.3,477.3 L445.0,477.5 L677.9,477.7" fill="none" stroke="#1f77b4" stroke-width="1.3" stroke-linejoin="round"/>
<path d="M376.8,477.7 L377.1,477.2 L377.4,476.7 L377.7,476.2 L378.0,475.7 L378.3,475.1 L378.5,474.6 L378.8,474.1 L379.0,473.5 L379.2,473.0 L379.4,472.4 L379.6,471.9 L379.8,471.3 L380.0,470.7 L380.2,470.2 L380.4,469.6 L380.6,469.0 L380.7,468.5 L380.9,467.9 L381.0,467.3 L381.1,466.7 L381.3,466.2 L381.4,465.6 L381.5,465.0 L381.6,464.4 L381.7,463.8 L381.8,463.2 L381.9,462.6 L382.0,462.0 L382.1,461.4 L382.2,460.8 L382.2,460.2 L382.3,459.6 L382.4,459.0 L382.4,458.4 L382.5,457.8 L382.6,457.2 L382.6,456.6 L382.7,456.0 L382.7,455.4 L382.8,454.8 L382.8,454.2 L382.9,453.6 L382.9,453.0 L383.0,452.4 L383.0,451.7 L383.0,451.1 L383.1,450.5 L383.1,449.9 L383.2,449.3 L383.2,448.7 L383.2,448.1 L383.3,447.5 L383.3,446.8 L383.4,446.2 L383.4,445.6 L383.5,445.0 L383.5,444.4 L383.5,443.8 L383.6,443.2 L383.6,442.6 L383.7,442.0 L383.7,441.4 L383.8,440.7 L383.8,440.1 L383.9,439.5 L383.9,438.9 L384.0,438.3 L384.0,437.7 L384.1,437.1 L384.1,436.5 L384.2,435.9 L384.2,435.3 L384.3,434.7 L384.3,434.0 L384.4,433.4 L384.4,432.8 L384.5,432.2 L384.6,431.6 L384.6,431.0 L384.7,430.4 L384.7,429.8 L384.8,429.2 L384.8,428.6 L384.9,428.0 L385.0,427.4 L385.0,426.8 L385.1,426.2 L385.1,425.6 L385.2,425.0 L385.3,424.4 L385.3,423.7 L385.4,423.1 L385.5,422.5 L385.5,421.9 L385.6,421.3 L385.7,420.7 L385.7,420.1 L385.8,419.5 L385.9,418.9 L385.9,418.3 L386.0,417.7 L386.1,417.1 L386.2,416.5 L386.2,415.9 L386.3,415.3 L386.4,414.7 L386.4,414.1 L386.5,413.5 L386.6,412.9 L386.7,412.3 L386.8,411.7 L386.8,411.1 L386.9,410.5 L387.0,409.9 L387.1,409.3 L387.2,408.7 L387.2,408.2 L387.3,407.6 L387.4,407.0 L387.5,406.4 L387.6,405.8 L387.7,405.2 L387.8,404.6 L387.9,404.0 L387.9,403.4 L388.0,402.8 L388.1,402.2 L388.2,401.6 L388.3,401.0 L388.4,400.4 L388.5,399.9 L388.6,399.3 L388.7,398.7 L388.8,398.1 L388.9,397.5 L389.0,396.9 L389.1,396.3 L389.2,395.7 L389.3,395.1 L389.4,394.6 L389.5,394.0 L389.6,393.4 L389.7,392.8 L389.8,392.2 L389.9,391.6 L390.0,391.0 L390.1,390.4 L390.2,389.8 L390.3,389.2 L390.4,388.6 L390.5,388.0 L390.6,387.4 L390.7,386.8 L390.8,386.2 L390.9,385.6 L391.0,385.0 L391.1,384.4 L391.2,383.7 L391.3,383.1 L391.4,382.5 L391.5,381.9 L391.6,381.2 L391.7,380.6 L391.7,380.0 L391.8,379.3 L391.9,378.7 L392.0,378.1 L392.1,377.4 L392.1,376.7 L392.2,376.1 L392.3,375.4 L392.4,374.8 L392.5,374.2 L392.6,373.6 L392.8,373.0 L393.0,372.5 L393.2,372.0 L393.5,371.6 L393.8,371.2 L394.3,371.0 L394.7,370.8 L395.2,370.7 L395.7,370.8 L396.1,371.2 L396.4,371.6 L396.8,372.1 L397.1,372.6 L397.4,373.1 L397.7,373.6 L397.9,374.2 L398.2,374.7 L398.4,375.3 L398.6,375.8 L398.9,376.4 L399.1,377.0 L399.3,377.5 L399.4,378.1 L399.6,378.7 L399.8,379.3 L400.0,379.9 L400.2,380.4 L400.3,381.0 L400.5,381.6 L400.7,382.2 L400.8,382.8 L401.0,383.4 L401.2,384.0 L401.3,384.6 L401.5,385.2 L401.6,385.8 L401.8,386.4 L401.9,387.0 L402.1,387.5 L402.2,388.1 L402.3,388.7 L402.5,389.3 L402.6,389.9 L402.7,390.5 L402.9,391.1 L403.0,391.7 L403.1,392.3 L403.3,392.9 L403.4,393.5 L403.5,394.1 L403.6,394.7 L403.7,395.3 L403.9,395.9 L404.0,396.5 L404.1,397.1 L404.2,397.7 L404.3,398.3 L404.4,398.9 L404.6,399.5 L404.7,400.1 L404.8,400.7 L404.9,401.3 L405.0,401.9 L405.1,402.5 L405.2,403.1 L405.3,403.7 L405.5,404.3 L405.6,404.9 L405.7,405.5 L405.8,406.1 L405.9,406.7 L406.0,407.3 L406.1,407.9 L406.3,408.5 L406.4,409.1 L406.5,409.7 L406.6,410.3 L406.7,410.9 L406.8,411.5 L407.0,412.1 L407.1,412.7 L407.2,413.3 L407.3,413.8 L407.5,414.4 L407.6,415.0 L407.7,415.6 L407.9,416.2 L408.0,416.8 L408.1,417.3 L408.3,417.9 L408.4,418.5 L408.5,419.1 L408.7,419.7 L408.8,420.2 L409.0,420.8 L409.1,421.4 L409.2,422.0 L409.4,422.6 L409.5,423.1 L409.7,423.7 L409.8,424.3 L410.0,424.9 L410.1,425.4 L410.3,426.0 L410.4,426.6 L410.6,427.2 L410.8,427.7 L410.9,428.3 L411.1,428.9 L411.2,429.5 L411.4,430.0 L411.5,430.6 L411.7,431.2 L411.9,431.8 L412.0,432.3 L412.2,432.9 L412.3,433.5 L412.5,434.1 L412.6,434.7 L412.8,435.2 L413.0,435.8 L413.1,436.4 L413.3,437.0 L413.4,437.6 L413.6,438.2 L413.8,438.8 L413.9,439.3 L414.1,439.9 L414.2,440.5 L414.4,441.1 L414.6,441.7 L414.7,442.3 L414.9,442.9 L415.0,443.5 L415.2,444.1 L415.3,444.7 L415.5,445.3 L415.6,445.9 L415.8,446.5 L415.9,447.1 L416.1,447.7 L416.3,448.3 L416.4,448.9 L416.6,449.6 L416.7,450.2 L416.9,450.8 L417.0,451.4 L417.2,452.0 L417.3,452.6 L417.5,453.2 L417.7,453.8 L417.8,454.4 L418.0,455.0 L418.2,455.6 L418.3,456.2 L418.5,456.8 L418.7,457.4 L418.9,458.0 L419.1,458.6 L419.3,459.2 L419.5,459.8 L419.7,460.3 L419.9,460.9 L420.2,461.5 L420.4,462.0 L420.6,462.6 L420.9,463.1 L421.1,463.6 L421.4,464.2 L421.6,464.7 L421.9,465.2 L422.2,465.7 L422.5,466.2 L422.8,466.7 L423.1,467.2 L423.5,467.7 L423.8,468.1 L424.1,468.6 L424.5,469.1 L424.9,469.5 L425.2,469.9 L425.6,470.3 L426.0,470.7 L426.4,471.1 L426.9,471.5 L427.3,471.9 L427.8,472.3 L428.2,472.6 L428.7,472.9 L429.2,473.3 L429.7,473.6 L430.3,473.9 L430.8,474.1 L431.3,474.4 L431.9,474.7 L432.5,474.9 L433.0,475.2 L433.6,475.4 L434.2,475.6 L434.8,475.8 L435.4,476.0 L436.0,476.2 L436.7,476.3 L437.3,476.5 L437.9,476.6 L438.5,476.7 L439.2,476.9 L439.8,477.0 L440.4,477.1 L441.1,477.2 L441.7,477.3 L442.3,477.3 L442.9,477.4 L443.6,477.4 L444.2,477.5 L444.8,477.5 L445.4,477.5 L446.0,477.6 L446.6,477.6 L447.2,477.6 L447.8,477.5 L448.3,477.5 L448.9,477.5 L449.4,477.5 L449.9,477.4 L677.9,477.7" fill="none" stroke="#ff7f0e" stroke-width="1.3" stroke-linejoin="round"/>
</g>
<path d="M376.50,477.50v2.6M376.50,282.00v-2.6M389.06,477.50v1.5M389.06,282.00v-1.5M401.62,477.50v1.5M401.62,282.00v-1.5M414.18,477.50v1.5M414.18,282.00v-1.5M426.73,477.50v2.6M426.73,282.00v-2.6M439.29,477.50v1.5M439.29,282.00v-1.5M451.85,477.50v1.5M451.85,282.00v-1.5M464.41,477.50v1.5M464.41,282.00v-1.5M476.97,477.50v2.6M476.97,282.00v-2.6M489.52,477.50v1.5M489.52,282.00v-1.5M502.08,477.50v1.5M502.08,282.00v-1.5M514.64,477.50v1.5M514.64,282.00v-1.5M527.20,477.50v2.6M527.20,282.00v-2.6M539.76,477.50v1.5M539.76,282.00v-1.5M552.32,477.50v1.5M552.32,282.00v-1.5M564.88,477.50v1.5M564.88,282.00v-1.5M577.43,477.50v2.6M577.43,282.00v-2.6M589.99,477.50v1.5M589.99,282.00v-1.5M602.55,477.50v1.5M602.55,282.00v-1.5M615.11,477.50v1.5M615.11,282.00v-1.5M627.67,477.50v2.6M627.67,282.00v-2.6M640.23,477.50v1.5M640.23,282.00v-1.5M652.78,477.50v1.5M652.78,282.00v-1.5M665.34,477.50v1.5M665.34,282.00v-1.5M677.90,477.50v2.6M677.90,282.00v-2.6M376.50,477.50h-2.6M677.90,477.50h2.6M376.50,472.06h-1.5M677.90,472.06h1.5M376.50,466.63h-1.5M677.90,466.63h1.5M376.50,461.19h-1.5M677.90,461.19h1.5M376.50,455.76h-2.6M677.90,455.76h2.6M376.50,450.32h-1.5M677.90,450.32h1.5M376.50,444.88h-1.5M677.90,444.88h1.5M376.50,439.45h-1.5M677.90,439.45h1.5M376.50,434.01h-2.6M677.90,434.01h2.6M376.50,428.57h-1.5M677.90,428.57h1.5M376.50,423.14h-1.5M677.90,423.14h1.5M376.50,417.70h-1.5M677.90,417.70h1.5M376.50,412.27h-2.6M677.90,412.27h2.6M376.50,406.83h-1.5M677.90,406.83h1.5M376.50,401.39h-1.5M677.90,401.39h1.5M376.50,395.96h-1.5M677.90,395.96h1.5M376.50,390.52h-2.6M677.90,390.52h2.6M376.50,385.09h-1.5M677.90,385.09h1.5M376.50,379.65h-1.5M677.90,379.65h1.5M376.50,374.21h-1.5M677.90,374.21h1.5M376.50,368.78h-2.6M677.90,368.78h2.6M376.50,363.34h-1.5M677.90,363.34h1.5M376.50,357.91h-1.5M677.90,357.91h1.5M376.50,352.47h-1.5M677.90,352.47h1.5M376.50,347.03h-2.6M677.90,347.03h2.6M376.50,341.60h-1.5M677.90,341.60h1.5M376.50,336.16h-1.5M677.90,336.16h1.5M376.50,330.73h-1.5M677.90,330.73h1.5M376.50,325.29h-2.6M677.90,325.29h2.6M376.50,319.85h-1.5M677.90,319.85h1.5M376.50,314.42h-1.5M677.90,314.42h1.5M376.50,308.98h-1.5M677.90,308.98h1.5M376.50,303.54h-2.6M677.90,303.54h2.6M376.50,298.11h-1.5M677.90,298.11h1.5M376.50,292.67h-1.5M677.90,292.67h1.5M376.50,287.24h-1.5M677.90,287.24h1.5M376.50,281.80h-2.6M677.90,281.80h2.6" stroke="#000" stroke-width="0.8" fill="none"/>
<text transform="translate(376.50,490.80) scale(0.885,1)" text-anchor="middle" class="tl">0.0</text>
<text transform="translate(426.73,490.80) scale(0.885,1)" text-anchor="middle" class="tl">0.2</text>
<text transform="translate(476.97,490.80) scale(0.885,1)" text-anchor="middle" class="tl">0.4</text>
<text transform="translate(527.20,490.80) scale(0.885,1)" text-anchor="middle" class="tl">0.6</text>
<text transform="translate(577.43,490.80) scale(0.885,1)" text-anchor="middle" class="tl">0.8</text>
<text transform="translate(627.67,490.80) scale(0.885,1)" text-anchor="middle" class="tl">1.0</text>
<text transform="translate(677.90,490.80) scale(0.885,1)" text-anchor="middle" class="tl">1.2</text>
<text transform="translate(371.10,482.10) scale(0.885,1)" text-anchor="end" class="tl">0.0</text>
<text transform="translate(371.10,460.36) scale(0.885,1)" text-anchor="end" class="tl">2.0</text>
<text transform="translate(371.10,438.61) scale(0.885,1)" text-anchor="end" class="tl">4.0</text>
<text transform="translate(371.10,416.87) scale(0.885,1)" text-anchor="end" class="tl">6.0</text>
<text transform="translate(371.10,395.12) scale(0.885,1)" text-anchor="end" class="tl">8.0</text>
<text transform="translate(371.10,373.38) scale(0.885,1)" text-anchor="end" class="tl">10.0</text>
<text transform="translate(371.10,351.63) scale(0.885,1)" text-anchor="end" class="tl">12.0</text>
<text transform="translate(371.10,329.89) scale(0.885,1)" text-anchor="end" class="tl">14.0</text>
<text transform="translate(371.10,308.14) scale(0.885,1)" text-anchor="end" class="tl">16.0</text>
<text transform="translate(371.10,286.40) scale(0.885,1)" text-anchor="end" class="tl">18.0</text>
<text transform="translate(527.20,503.80)" text-anchor="middle" class="xl">saturation</text>
<text transform="translate(476.50,272.90) scale(0.86,1)" class="tt">Bound for</text>
<text transform="translate(532.80,272.90)" class="tt" font-style="italic">J</text>
<text transform="translate(541.20,267.30)" class="ts" font-style="italic">P</text>
<path d="M552.20,268.50h8.6M552.20,270.50h8.6" stroke="#333" stroke-width="0.75"/>
<text transform="translate(564.70,272.90) scale(0.85,1)" class="tn">1</text>
<path d="M572.00,264.50H577.60" stroke="#333" stroke-width="0.75"/>
<rect x="382.30" y="287.50" width="87.3" height="33" rx="2" fill="#fff" fill-opacity="0.8" stroke="#cccccc" stroke-width="0.8"/>
<path d="M385.90,295.60h22.9" stroke="#1f77b4" stroke-width="1.3"/>
<path d="M385.90,310.60h22.9" stroke="#ff7f0e" stroke-width="1.3"/>
<text transform="translate(416.70,299.10) scale(0.92,1)" class="lg">scenario C</text>
<text transform="translate(416.70,314.90) scale(0.92,1)" class="lg">BJvD19</text>
<text transform="translate(603.50,297.70)" text-anchor="middle" class="eos">E</text>
<text transform="translate(611.40,297.70) scale(1.05,1)" text-anchor="middle" class="eos">O</text>
<text transform="translate(620.00,297.70) scale(1.03,1)" text-anchor="middle" class="eos">S</text>
<text transform="translate(631.00,297.70) scale(1.05,1)" text-anchor="middle" class="eos">v</text>
<text transform="translate(638.70,297.70) scale(1.2,1)" text-anchor="middle" class="eos">0</text>
<text transform="translate(644.20,297.70) scale(1.2,1)" text-anchor="middle" class="eos">.</text>
<text transform="translate(650.20,297.70) scale(1.2,1)" text-anchor="middle" class="eos">3</text>
<text transform="translate(655.80,297.70) scale(1.2,1)" text-anchor="middle" class="eos">.</text>
<text transform="translate(661.60,297.70) scale(1.35,1)" text-anchor="middle" class="eos">1</text>
</svg>
</body></html>
